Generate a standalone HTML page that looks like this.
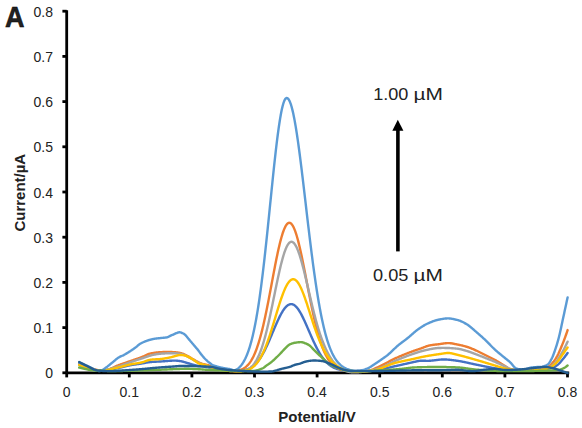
<!DOCTYPE html>
<html><head><meta charset="utf-8"><style>
html,body{margin:0;padding:0;background:#fff;}
svg{display:block;}
text{font-family:"Liberation Sans",sans-serif;fill:#222;}
</style></head><body>
<svg width="582" height="428" viewBox="0 0 582 428">
<rect width="582" height="428" fill="#fff"/>
<g stroke="#000" stroke-width="2.8">
<line x1="66.7" y1="10.2" x2="66.7" y2="372.8"/>
<line x1="66.7" y1="372.8" x2="569.2" y2="372.8"/>
<line x1="62.4" y1="372.80" x2="66.70" y2="372.80"/>
<line x1="62.4" y1="327.60" x2="66.70" y2="327.60"/>
<line x1="62.4" y1="282.40" x2="66.70" y2="282.40"/>
<line x1="62.4" y1="237.20" x2="66.70" y2="237.20"/>
<line x1="62.4" y1="192.00" x2="66.70" y2="192.00"/>
<line x1="62.4" y1="146.80" x2="66.70" y2="146.80"/>
<line x1="62.4" y1="101.60" x2="66.70" y2="101.60"/>
<line x1="62.4" y1="56.40" x2="66.70" y2="56.40"/>
<line x1="62.4" y1="11.20" x2="66.70" y2="11.20"/>
<line x1="66.70" y1="372.80" x2="66.70" y2="377.4"/>
<line x1="129.30" y1="372.80" x2="129.30" y2="377.4"/>
<line x1="191.90" y1="372.80" x2="191.90" y2="377.4"/>
<line x1="254.50" y1="372.80" x2="254.50" y2="377.4"/>
<line x1="317.10" y1="372.80" x2="317.10" y2="377.4"/>
<line x1="379.70" y1="372.80" x2="379.70" y2="377.4"/>
<line x1="442.30" y1="372.80" x2="442.30" y2="377.4"/>
<line x1="504.90" y1="372.80" x2="504.90" y2="377.4"/>
<line x1="567.50" y1="372.80" x2="567.50" y2="377.4"/>
</g>
<g fill="none" stroke-width="2.4" stroke-linejoin="round" stroke-linecap="round">
<path d="M79.2,364.00 L79.7,364.23 L80.2,364.46 L80.7,364.70 L81.2,364.93 L81.7,365.17 L82.2,365.41 L82.7,365.65 L83.2,365.88 L83.7,366.12 L84.2,366.36 L84.7,366.59 L85.2,366.83 L85.7,367.06 L86.2,367.29 L86.7,367.51 L87.2,367.73 L87.7,367.95 L88.2,368.16 L88.7,368.37 L89.2,368.57 L89.7,368.77 L90.2,368.96 L90.7,369.14 L91.2,369.32 L91.7,369.49 L92.2,369.65 L92.7,369.80 L93.2,369.95 L93.7,370.08 L94.2,370.21 L94.7,370.32 L95.2,370.43 L95.7,370.52 L96.2,370.60 L96.7,370.67 L97.2,370.73 L97.7,370.77 L98.2,370.80 L98.7,370.82 L99.2,370.82 L99.7,370.81 L100.2,370.79 L100.7,370.76 L101.2,370.72 L101.7,370.68 L102.2,370.64 L102.7,370.60 L103.2,370.55 L103.7,370.50 L104.2,370.44 L104.7,370.38 L105.2,370.32 L105.7,370.26 L106.2,370.19 L106.7,370.12 L107.2,370.05 L107.7,369.97 L108.2,369.90 L108.7,369.82 L109.2,369.74 L109.7,369.65 L110.2,369.57 L110.7,369.48 L111.2,369.39 L111.7,369.30 L112.2,369.21 L112.7,369.12 L113.2,369.02 L113.7,368.92 L114.2,368.83 L114.7,368.73 L115.2,368.63 L115.7,368.53 L116.2,368.43 L116.7,368.33 L117.2,368.23 L117.7,368.12 L118.2,368.02 L118.7,367.92 L119.2,367.81 L119.7,367.70 L120.2,367.58 L120.7,367.47 L121.2,367.35 L121.7,367.23 L122.2,367.10 L122.7,366.98 L123.2,366.86 L123.7,366.73 L124.2,366.61 L124.7,366.48 L125.2,366.36 L125.7,366.24 L126.2,366.12 L126.7,366.00 L127.2,365.88 L127.7,365.77 L128.2,365.66 L128.7,365.56 L129.2,365.45 L129.7,365.36 L130.2,365.26 L130.7,365.17 L131.2,365.09 L131.7,365.00 L132.2,364.92 L132.7,364.84 L133.2,364.76 L133.7,364.68 L134.2,364.61 L134.7,364.53 L135.2,364.46 L135.7,364.39 L136.2,364.32 L136.7,364.25 L137.2,364.17 L137.7,364.10 L138.2,364.03 L138.7,363.96 L139.2,363.88 L139.7,363.81 L140.2,363.73 L140.7,363.66 L141.2,363.58 L141.7,363.50 L142.2,363.42 L142.7,363.33 L143.2,363.24 L143.7,363.14 L144.2,363.05 L144.7,362.95 L145.2,362.85 L145.7,362.76 L146.2,362.66 L146.7,362.57 L147.2,362.48 L147.7,362.40 L148.2,362.32 L148.7,362.25 L149.2,362.19 L149.7,362.13 L150.2,362.08 L150.7,362.04 L151.2,362.00 L151.7,361.96 L152.2,361.92 L152.7,361.89 L153.2,361.86 L153.7,361.83 L154.2,361.80 L154.7,361.77 L155.2,361.74 L155.7,361.72 L156.2,361.69 L156.7,361.67 L157.2,361.64 L157.7,361.62 L158.2,361.60 L158.7,361.57 L159.2,361.54 L159.7,361.52 L160.2,361.49 L160.7,361.46 L161.2,361.43 L161.7,361.40 L162.2,361.37 L162.7,361.33 L163.2,361.30 L163.7,361.26 L164.2,361.22 L164.7,361.19 L165.2,361.15 L165.7,361.11 L166.2,361.07 L166.7,361.03 L167.2,360.99 L167.7,360.96 L168.2,360.92 L168.7,360.88 L169.2,360.85 L169.7,360.81 L170.2,360.78 L170.7,360.74 L171.2,360.71 L171.7,360.68 L172.2,360.66 L172.7,360.63 L173.2,360.60 L173.7,360.59 L174.2,360.58 L174.7,360.58 L175.2,360.59 L175.7,360.62 L176.2,360.65 L176.7,360.68 L177.2,360.73 L177.7,360.78 L178.2,360.83 L178.7,360.89 L179.2,360.95 L179.7,361.02 L180.2,361.09 L180.7,361.16 L181.2,361.25 L181.7,361.35 L182.2,361.47 L182.7,361.60 L183.2,361.74 L183.7,361.88 L184.2,362.03 L184.7,362.19 L185.2,362.34 L185.7,362.50 L186.2,362.65 L186.7,362.80 L187.2,362.94 L187.7,363.08 L188.2,363.22 L188.7,363.37 L189.2,363.52 L189.7,363.67 L190.2,363.82 L190.7,363.97 L191.2,364.13 L191.7,364.28 L192.2,364.43 L192.7,364.58 L193.2,364.72 L193.7,364.86 L194.2,365.00 L194.7,365.13 L195.2,365.26 L195.7,365.38 L196.2,365.49 L196.7,365.60 L197.2,365.70 L197.7,365.79 L198.2,365.88 L198.7,365.96 L199.2,366.04 L199.7,366.11 L200.2,366.18 L200.7,366.25 L201.2,366.32 L201.7,366.39 L202.2,366.45 L202.7,366.52 L203.2,366.59 L203.7,366.65 L204.2,366.72 L204.7,366.80 L205.2,366.87 L205.7,366.95 L206.2,367.03 L206.7,367.12 L207.2,367.21 L207.7,367.30 L208.2,367.39 L208.7,367.49 L209.2,367.58 L209.7,367.68 L210.2,367.78 L210.7,367.88 L211.2,367.98 L211.7,368.08 L212.2,368.18 L212.7,368.27 L213.2,368.37 L213.7,368.47 L214.2,368.57 L214.7,368.66 L215.2,368.75 L215.7,368.84 L216.2,368.93 L216.7,369.02 L217.2,369.10 L217.7,369.18 L218.2,369.26 L218.7,369.33 L219.2,369.40 L219.7,369.46 L220.2,369.52 L220.7,369.58 L221.2,369.64 L221.7,369.70 L222.2,369.76 L222.7,369.82 L223.2,369.88 L223.7,369.94 L224.2,370.00 L224.7,370.06 L225.2,370.11 L225.7,370.17 L226.2,370.23 L226.7,370.28 L227.2,370.33 L227.7,370.38 L228.2,370.44 L228.7,370.48 L229.2,370.53 L229.7,370.58 L230.2,370.62 L230.7,370.66 L231.2,370.70 L231.7,370.74 L232.2,370.77 L232.7,370.81 L233.2,370.84 L233.7,370.86 L234.2,370.88 L234.7,370.90 L235.2,370.92 L235.7,370.93 L236.2,370.94 L236.7,370.94 L237.2,370.93 L237.7,370.92 L238.2,370.91 L238.7,370.89 L239.2,370.86 L239.7,370.82 L240.2,370.78 L240.7,370.73 L241.2,370.68 L241.7,370.62 L242.2,370.55 L242.7,370.48 L243.2,370.40 L243.7,370.31 L244.2,370.21 L244.7,370.10 L245.2,369.99 L245.7,369.86 L246.2,369.72 L246.7,369.57 L247.2,369.40 L247.7,369.22 L248.2,369.03 L248.7,368.82 L249.2,368.60 L249.7,368.36 L250.2,368.10 L250.7,367.83 L251.2,367.53 L251.7,367.21 L252.2,366.88 L252.7,366.52 L253.2,366.14 L253.7,365.74 L254.2,365.32 L254.7,364.87 L255.2,364.39 L255.7,363.89 L256.2,363.37 L256.7,362.82 L257.2,362.24 L257.7,361.64 L258.2,361.00 L258.7,360.35 L259.2,359.66 L259.7,358.95 L260.2,358.21 L260.7,357.44 L261.2,356.64 L261.7,355.82 L262.2,354.97 L262.7,354.10 L263.2,353.19 L263.7,352.27 L264.2,351.32 L264.7,350.34 L265.2,349.34 L265.7,348.32 L266.2,347.28 L266.7,346.22 L267.2,345.14 L267.7,344.04 L268.2,342.92 L268.7,341.79 L269.2,340.65 L269.7,339.49 L270.2,338.32 L270.7,337.15 L271.2,335.97 L271.7,334.78 L272.2,333.59 L272.7,332.40 L273.2,331.20 L273.7,330.01 L274.2,328.83 L274.7,327.65 L275.2,326.48 L275.7,325.32 L276.2,324.17 L276.7,323.03 L277.2,321.91 L277.7,320.81 L278.2,319.73 L278.7,318.67 L279.2,317.64 L279.7,316.63 L280.2,315.65 L280.7,314.69 L281.2,313.77 L281.7,312.89 L282.2,312.03 L282.7,311.22 L283.2,310.44 L283.7,309.70 L284.2,309.00 L284.7,308.34 L285.2,307.73 L285.7,307.16 L286.2,306.64 L286.7,306.16 L287.2,305.73 L287.7,305.35 L288.2,305.02 L288.7,304.74 L289.2,304.51 L289.7,304.33 L290.2,304.20 L290.7,304.13 L291.2,304.10 L291.7,304.13 L292.2,304.21 L292.7,304.35 L293.2,304.54 L293.7,304.78 L294.2,305.08 L294.7,305.42 L295.2,305.82 L295.7,306.28 L296.2,306.78 L296.7,307.32 L297.2,307.92 L297.7,308.56 L298.2,309.24 L298.7,309.97 L299.2,310.74 L299.7,311.54 L300.2,312.39 L300.7,313.27 L301.2,314.18 L301.7,315.12 L302.2,316.09 L302.7,317.09 L303.2,318.12 L303.7,319.16 L304.2,320.23 L304.7,321.32 L305.2,322.42 L305.7,323.54 L306.2,324.67 L306.7,325.81 L307.2,326.95 L307.7,328.11 L308.2,329.26 L308.7,330.42 L309.2,331.58 L309.7,332.74 L310.2,333.89 L310.7,335.04 L311.2,336.18 L311.7,337.31 L312.2,338.44 L312.7,339.55 L313.2,340.64 L313.7,341.73 L314.2,342.79 L314.7,343.84 L315.2,344.88 L315.7,345.89 L316.2,346.89 L316.7,347.86 L317.2,348.81 L317.7,349.74 L318.2,350.65 L318.7,351.54 L319.2,352.40 L319.7,353.24 L320.2,354.05 L320.7,354.84 L321.2,355.61 L321.7,356.35 L322.2,357.07 L322.7,357.76 L323.2,358.43 L323.7,359.08 L324.2,359.70 L324.7,360.30 L325.2,360.88 L325.7,361.43 L326.2,361.96 L326.7,362.47 L327.2,362.96 L327.7,363.43 L328.2,363.87 L328.7,364.30 L329.2,364.71 L329.7,365.09 L330.2,365.46 L330.7,365.81 L331.2,366.15 L331.7,366.46 L332.2,366.76 L332.7,367.05 L333.2,367.32 L333.7,367.57 L334.2,367.81 L334.7,368.04 L335.2,368.26 L335.7,368.46 L336.2,368.65 L336.7,368.83 L337.2,369.00 L337.7,369.16 L338.2,369.31 L338.7,369.45 L339.2,369.58 L339.7,369.70 L340.2,369.82 L340.7,369.93 L341.2,370.03 L341.7,370.12 L342.2,370.21 L342.7,370.29 L343.2,370.37 L343.7,370.44 L344.2,370.50 L344.7,370.57 L345.2,370.62 L345.7,370.68 L346.2,370.73 L346.7,370.77 L347.2,370.81 L347.7,370.85 L348.2,370.89 L348.7,370.92 L349.2,370.96 L349.7,370.98 L350.2,371.01 L350.7,371.03 L351.2,371.06 L351.7,371.08 L352.2,371.09 L352.7,371.11 L353.2,371.12 L353.7,371.13 L354.2,371.14 L354.7,371.15 L355.2,371.16 L355.7,371.17 L356.2,371.17 L356.7,371.18 L357.2,371.18 L357.7,371.18 L358.2,371.18 L358.7,371.18 L359.2,371.18 L359.7,371.18 L360.2,371.17 L360.7,371.17 L361.2,371.17 L361.7,371.16 L362.2,371.15 L362.7,371.15 L363.2,371.14 L363.7,371.13 L364.2,371.13 L364.7,371.12 L365.2,371.11 L365.7,371.10 L366.2,371.09 L366.7,371.08 L367.2,371.07 L367.7,371.06 L368.2,371.04 L368.7,371.03 L369.2,371.02 L369.7,371.01 L370.2,370.99 L370.7,370.98 L371.2,370.95 L371.7,370.92 L372.2,370.89 L372.7,370.85 L373.2,370.80 L373.7,370.75 L374.2,370.69 L374.7,370.63 L375.2,370.57 L375.7,370.50 L376.2,370.42 L376.7,370.35 L377.2,370.27 L377.7,370.18 L378.2,370.09 L378.7,370.00 L379.2,369.90 L379.7,369.81 L380.2,369.71 L380.7,369.60 L381.2,369.50 L381.7,369.39 L382.2,369.28 L382.7,369.16 L383.2,369.05 L383.7,368.93 L384.2,368.81 L384.7,368.70 L385.2,368.57 L385.7,368.45 L386.2,368.33 L386.7,368.21 L387.2,368.08 L387.7,367.96 L388.2,367.84 L388.7,367.71 L389.2,367.59 L389.7,367.46 L390.2,367.34 L390.7,367.22 L391.2,367.10 L391.7,366.98 L392.2,366.86 L392.7,366.74 L393.2,366.62 L393.7,366.51 L394.2,366.39 L394.7,366.28 L395.2,366.17 L395.7,366.06 L396.2,365.96 L396.7,365.85 L397.2,365.75 L397.7,365.64 L398.2,365.53 L398.7,365.42 L399.2,365.31 L399.7,365.20 L400.2,365.09 L400.7,364.98 L401.2,364.86 L401.7,364.75 L402.2,364.64 L402.7,364.52 L403.2,364.41 L403.7,364.29 L404.2,364.18 L404.7,364.06 L405.2,363.95 L405.7,363.83 L406.2,363.72 L406.7,363.60 L407.2,363.49 L407.7,363.37 L408.2,363.26 L408.7,363.14 L409.2,363.03 L409.7,362.92 L410.2,362.80 L410.7,362.69 L411.2,362.58 L411.7,362.47 L412.2,362.36 L412.7,362.25 L413.2,362.14 L413.7,362.03 L414.2,361.93 L414.7,361.82 L415.2,361.71 L415.7,361.60 L416.2,361.49 L416.7,361.37 L417.2,361.26 L417.7,361.15 L418.2,361.05 L418.7,360.96 L419.2,360.88 L419.7,360.83 L420.2,360.79 L420.7,360.76 L421.2,360.74 L421.7,360.73 L422.2,360.73 L422.7,360.73 L423.2,360.74 L423.7,360.75 L424.2,360.77 L424.7,360.78 L425.2,360.80 L425.7,360.82 L426.2,360.83 L426.7,360.84 L427.2,360.85 L427.7,360.85 L428.2,360.84 L428.7,360.83 L429.2,360.81 L429.7,360.78 L430.2,360.75 L430.7,360.71 L431.2,360.66 L431.7,360.61 L432.2,360.56 L432.7,360.50 L433.2,360.45 L433.7,360.39 L434.2,360.32 L434.7,360.26 L435.2,360.20 L435.7,360.14 L436.2,360.07 L436.7,360.01 L437.2,359.95 L437.7,359.89 L438.2,359.83 L438.7,359.78 L439.2,359.73 L439.7,359.68 L440.2,359.64 L440.7,359.60 L441.2,359.56 L441.7,359.53 L442.2,359.51 L442.7,359.49 L443.2,359.48 L443.7,359.48 L444.2,359.48 L444.7,359.49 L445.2,359.50 L445.7,359.51 L446.2,359.54 L446.7,359.56 L447.2,359.59 L447.7,359.63 L448.2,359.66 L448.7,359.71 L449.2,359.75 L449.7,359.80 L450.2,359.85 L450.7,359.90 L451.2,359.96 L451.7,360.02 L452.2,360.08 L452.7,360.15 L453.2,360.21 L453.7,360.28 L454.2,360.35 L454.7,360.42 L455.2,360.49 L455.7,360.56 L456.2,360.63 L456.7,360.70 L457.2,360.77 L457.7,360.84 L458.2,360.92 L458.7,361.00 L459.2,361.08 L459.7,361.16 L460.2,361.25 L460.7,361.34 L461.2,361.43 L461.7,361.52 L462.2,361.62 L462.7,361.72 L463.2,361.82 L463.7,361.92 L464.2,362.02 L464.7,362.13 L465.2,362.23 L465.7,362.34 L466.2,362.45 L466.7,362.56 L467.2,362.67 L467.7,362.78 L468.2,362.89 L468.7,363.00 L469.2,363.11 L469.7,363.22 L470.2,363.33 L470.7,363.45 L471.2,363.56 L471.7,363.67 L472.2,363.78 L472.7,363.89 L473.2,364.00 L473.7,364.10 L474.2,364.21 L474.7,364.31 L475.2,364.42 L475.7,364.52 L476.2,364.62 L476.7,364.72 L477.2,364.82 L477.7,364.92 L478.2,365.02 L478.7,365.13 L479.2,365.23 L479.7,365.33 L480.2,365.43 L480.7,365.53 L481.2,365.64 L481.7,365.74 L482.2,365.84 L482.7,365.94 L483.2,366.05 L483.7,366.15 L484.2,366.25 L484.7,366.35 L485.2,366.45 L485.7,366.56 L486.2,366.66 L486.7,366.76 L487.2,366.86 L487.7,366.96 L488.2,367.05 L488.7,367.15 L489.2,367.25 L489.7,367.35 L490.2,367.44 L490.7,367.54 L491.2,367.63 L491.7,367.73 L492.2,367.82 L492.7,367.91 L493.2,368.00 L493.7,368.09 L494.2,368.18 L494.7,368.27 L495.2,368.35 L495.7,368.44 L496.2,368.53 L496.7,368.62 L497.2,368.70 L497.7,368.79 L498.2,368.88 L498.7,368.97 L499.2,369.06 L499.7,369.15 L500.2,369.24 L500.7,369.32 L501.2,369.41 L501.7,369.49 L502.2,369.57 L502.7,369.65 L503.2,369.73 L503.7,369.81 L504.2,369.88 L504.7,369.95 L505.2,370.02 L505.7,370.09 L506.2,370.15 L506.7,370.21 L507.2,370.26 L507.7,370.32 L508.2,370.36 L508.7,370.41 L509.2,370.45 L509.7,370.48 L510.2,370.51 L510.7,370.54 L511.2,370.57 L511.7,370.59 L512.2,370.61 L512.7,370.63 L513.2,370.65 L513.7,370.67 L514.2,370.69 L514.7,370.70 L515.2,370.72 L515.7,370.73 L516.2,370.74 L516.7,370.75 L517.2,370.75 L517.7,370.76 L518.2,370.76 L518.7,370.77 L519.2,370.77 L519.7,370.77 L520.2,370.77 L520.7,370.77 L521.2,370.76 L521.7,370.76 L522.2,370.75 L522.7,370.74 L523.2,370.73 L523.7,370.72 L524.2,370.71 L524.7,370.70 L525.2,370.69 L525.7,370.67 L526.2,370.66 L526.7,370.64 L527.2,370.62 L527.7,370.60 L528.2,370.58 L528.7,370.56 L529.2,370.54 L529.7,370.51 L530.2,370.49 L530.7,370.46 L531.2,370.43 L531.7,370.40 L532.2,370.37 L532.7,370.33 L533.2,370.29 L533.7,370.25 L534.2,370.20 L534.7,370.16 L535.2,370.11 L535.7,370.06 L536.2,370.01 L536.7,369.96 L537.2,369.90 L537.7,369.85 L538.2,369.79 L538.7,369.74 L539.2,369.68 L539.7,369.62 L540.2,369.56 L540.7,369.51 L541.2,369.45 L541.7,369.39 L542.2,369.33 L542.7,369.27 L543.2,369.21 L543.7,369.15 L544.2,369.09 L544.7,369.03 L545.2,368.98 L545.7,368.92 L546.2,368.85 L546.7,368.78 L547.2,368.70 L547.7,368.62 L548.2,368.53 L548.7,368.44 L549.2,368.35 L549.7,368.25 L550.2,368.14 L550.7,368.04 L551.2,367.93 L551.7,367.81 L552.2,367.69 L552.7,367.57 L553.2,367.45 L553.7,367.28 L554.2,367.06 L554.7,366.81 L555.2,366.52 L555.7,366.20 L556.2,365.86 L556.7,365.50 L557.2,365.12 L557.7,364.73 L558.2,364.34 L558.7,363.90 L559.2,363.42 L559.7,362.90 L560.2,362.35 L560.7,361.77 L561.2,361.18 L561.7,360.58 L562.2,359.97 L562.7,359.36 L563.2,358.76 L563.7,358.15 L564.2,357.53 L564.7,356.89 L565.2,356.25 L565.7,355.59 L566.2,354.92 L566.7,354.24 L567.2,353.56 L567.6,353.00" stroke="#4472C4"/>
<path d="M79.2,364.50 L79.7,364.68 L80.2,364.85 L80.7,365.03 L81.2,365.20 L81.7,365.37 L82.2,365.54 L82.7,365.71 L83.2,365.88 L83.7,366.05 L84.2,366.21 L84.7,366.38 L85.2,366.54 L85.7,366.70 L86.2,366.86 L86.7,367.01 L87.2,367.17 L87.7,367.32 L88.2,367.47 L88.7,367.62 L89.2,367.77 L89.7,367.91 L90.2,368.06 L90.7,368.20 L91.2,368.35 L91.7,368.50 L92.2,368.65 L92.7,368.79 L93.2,368.94 L93.7,369.09 L94.2,369.23 L94.7,369.37 L95.2,369.51 L95.7,369.64 L96.2,369.77 L96.7,369.89 L97.2,370.00 L97.7,370.11 L98.2,370.21 L98.7,370.30 L99.2,370.39 L99.7,370.46 L100.2,370.52 L100.7,370.57 L101.2,370.60 L101.7,370.61 L102.2,370.61 L102.7,370.59 L103.2,370.56 L103.7,370.52 L104.2,370.46 L104.7,370.39 L105.2,370.31 L105.7,370.22 L106.2,370.11 L106.7,370.00 L107.2,369.87 L107.7,369.73 L108.2,369.58 L108.7,369.41 L109.2,369.23 L109.7,369.04 L110.2,368.85 L110.7,368.64 L111.2,368.43 L111.7,368.21 L112.2,367.98 L112.7,367.75 L113.2,367.52 L113.7,367.29 L114.2,367.06 L114.7,366.83 L115.2,366.60 L115.7,366.38 L116.2,366.16 L116.7,365.94 L117.2,365.73 L117.7,365.53 L118.2,365.34 L118.7,365.15 L119.2,364.97 L119.7,364.79 L120.2,364.61 L120.7,364.43 L121.2,364.25 L121.7,364.07 L122.2,363.90 L122.7,363.72 L123.2,363.55 L123.7,363.38 L124.2,363.20 L124.7,363.03 L125.2,362.86 L125.7,362.69 L126.2,362.51 L126.7,362.34 L127.2,362.17 L127.7,362.00 L128.2,361.83 L128.7,361.65 L129.2,361.48 L129.7,361.30 L130.2,361.13 L130.7,360.96 L131.2,360.78 L131.7,360.61 L132.2,360.44 L132.7,360.27 L133.2,360.10 L133.7,359.93 L134.2,359.75 L134.7,359.58 L135.2,359.41 L135.7,359.24 L136.2,359.07 L136.7,358.90 L137.2,358.72 L137.7,358.55 L138.2,358.37 L138.7,358.20 L139.2,358.02 L139.7,357.84 L140.2,357.66 L140.7,357.47 L141.2,357.29 L141.7,357.10 L142.2,356.90 L142.7,356.69 L143.2,356.47 L143.7,356.23 L144.2,355.99 L144.7,355.75 L145.2,355.50 L145.7,355.25 L146.2,355.01 L146.7,354.78 L147.2,354.55 L147.7,354.34 L148.2,354.14 L148.7,353.96 L149.2,353.81 L149.7,353.67 L150.2,353.56 L150.7,353.45 L151.2,353.35 L151.7,353.25 L152.2,353.16 L152.7,353.07 L153.2,352.98 L153.7,352.90 L154.2,352.82 L154.7,352.74 L155.2,352.67 L155.7,352.60 L156.2,352.54 L156.7,352.48 L157.2,352.42 L157.7,352.37 L158.2,352.32 L158.7,352.28 L159.2,352.24 L159.7,352.20 L160.2,352.17 L160.7,352.14 L161.2,352.12 L161.7,352.10 L162.2,352.08 L162.7,352.07 L163.2,352.06 L163.7,352.05 L164.2,352.04 L164.7,352.03 L165.2,352.02 L165.7,352.01 L166.2,352.01 L166.7,352.01 L167.2,352.00 L167.7,352.00 L168.2,352.01 L168.7,352.01 L169.2,352.01 L169.7,352.02 L170.2,352.02 L170.7,352.03 L171.2,352.04 L171.7,352.05 L172.2,352.07 L172.7,352.08 L173.2,352.10 L173.7,352.12 L174.2,352.14 L174.7,352.18 L175.2,352.22 L175.7,352.28 L176.2,352.33 L176.7,352.40 L177.2,352.47 L177.7,352.54 L178.2,352.62 L178.7,352.71 L179.2,352.80 L179.7,352.89 L180.2,352.98 L180.7,353.08 L181.2,353.21 L181.7,353.36 L182.2,353.52 L182.7,353.71 L183.2,353.91 L183.7,354.12 L184.2,354.34 L184.7,354.57 L185.2,354.81 L185.7,355.06 L186.2,355.30 L186.7,355.55 L187.2,355.80 L187.7,356.05 L188.2,356.31 L188.7,356.59 L189.2,356.88 L189.7,357.17 L190.2,357.47 L190.7,357.78 L191.2,358.09 L191.7,358.40 L192.2,358.71 L192.7,359.02 L193.2,359.32 L193.7,359.61 L194.2,359.89 L194.7,360.16 L195.2,360.44 L195.7,360.71 L196.2,360.99 L196.7,361.26 L197.2,361.53 L197.7,361.80 L198.2,362.06 L198.7,362.31 L199.2,362.56 L199.7,362.79 L200.2,363.02 L200.7,363.23 L201.2,363.43 L201.7,363.61 L202.2,363.77 L202.7,363.91 L203.2,364.04 L203.7,364.16 L204.2,364.27 L204.7,364.38 L205.2,364.48 L205.7,364.58 L206.2,364.69 L206.7,364.81 L207.2,364.93 L207.7,365.07 L208.2,365.23 L208.7,365.41 L209.2,365.61 L209.7,365.82 L210.2,366.05 L210.7,366.29 L211.2,366.54 L211.7,366.80 L212.2,367.06 L212.7,367.33 L213.2,367.59 L213.7,367.85 L214.2,368.10 L214.7,368.34 L215.2,368.57 L215.7,368.78 L216.2,368.98 L216.7,369.16 L217.2,369.31 L217.7,369.44 L218.2,369.54 L218.7,369.63 L219.2,369.72 L219.7,369.81 L220.2,369.89 L220.7,369.97 L221.2,370.04 L221.7,370.12 L222.2,370.19 L222.7,370.25 L223.2,370.32 L223.7,370.38 L224.2,370.43 L224.7,370.48 L225.2,370.53 L225.7,370.58 L226.2,370.62 L226.7,370.66 L227.2,370.69 L227.7,370.72 L228.2,370.75 L228.7,370.77 L229.2,370.78 L229.7,370.80 L230.2,370.80 L230.7,370.81 L231.2,370.81 L231.7,370.81 L232.2,370.81 L232.7,370.81 L233.2,370.80 L233.7,370.79 L234.2,370.78 L234.7,370.76 L235.2,370.73 L235.7,370.69 L236.2,370.65 L236.7,370.60 L237.2,370.54 L237.7,370.47 L238.2,370.39 L238.7,370.29 L239.2,370.18 L239.7,370.06 L240.2,369.92 L240.7,369.77 L241.2,369.59 L241.7,369.40 L242.2,369.19 L242.7,368.95 L243.2,368.69 L243.7,368.41 L244.2,368.11 L244.7,367.78 L245.2,367.42 L245.7,367.04 L246.2,366.63 L246.7,366.18 L247.2,365.71 L247.7,365.20 L248.2,364.65 L248.7,364.07 L249.2,363.45 L249.7,362.79 L250.2,362.09 L250.7,361.35 L251.2,360.57 L251.7,359.73 L252.2,358.85 L252.7,357.93 L253.2,356.95 L253.7,355.92 L254.2,354.84 L254.7,353.70 L255.2,352.52 L255.7,351.27 L256.2,349.97 L256.7,348.61 L257.2,347.20 L257.7,345.73 L258.2,344.20 L258.7,342.61 L259.2,340.96 L259.7,339.25 L260.2,337.49 L260.7,335.66 L261.2,333.78 L261.7,331.83 L262.2,329.84 L262.7,327.78 L263.2,325.67 L263.7,323.50 L264.2,321.29 L264.7,319.02 L265.2,316.70 L265.7,314.34 L266.2,311.94 L266.7,309.49 L267.2,307.01 L267.7,304.49 L268.2,301.94 L268.7,299.37 L269.2,296.76 L269.7,294.14 L270.2,291.50 L270.7,288.85 L271.2,286.18 L271.7,283.52 L272.2,280.85 L272.7,278.19 L273.2,275.53 L273.7,272.89 L274.2,270.27 L274.7,267.67 L275.2,265.10 L275.7,262.57 L276.2,260.07 L276.7,257.61 L277.2,255.21 L277.7,252.85 L278.2,250.55 L278.7,248.32 L279.2,246.15 L279.7,244.06 L280.2,242.04 L280.7,240.10 L281.2,238.24 L281.7,236.48 L282.2,234.80 L282.7,233.23 L283.2,231.75 L283.7,230.38 L284.2,229.11 L284.7,227.95 L285.2,226.91 L285.7,225.98 L286.2,225.16 L286.7,224.46 L287.2,223.89 L287.7,223.43 L288.2,223.10 L288.7,222.89 L289.2,222.80 L289.7,222.84 L290.2,223.00 L290.7,223.28 L291.2,223.69 L291.7,224.22 L292.2,224.87 L292.7,225.63 L293.2,226.52 L293.7,227.52 L294.2,228.63 L294.7,229.85 L295.2,231.17 L295.7,232.60 L296.2,234.13 L296.7,235.76 L297.2,237.47 L297.7,239.28 L298.2,241.17 L298.7,243.14 L299.2,245.18 L299.7,247.30 L300.2,249.48 L300.7,251.72 L301.2,254.02 L301.7,256.37 L302.2,258.77 L302.7,261.21 L303.2,263.68 L303.7,266.19 L304.2,268.72 L304.7,271.28 L305.2,273.85 L305.7,276.44 L306.2,279.03 L306.7,281.63 L307.2,284.23 L307.7,286.82 L308.2,289.40 L308.7,291.97 L309.2,294.52 L309.7,297.06 L310.2,299.56 L310.7,302.04 L311.2,304.49 L311.7,306.91 L312.2,309.29 L312.7,311.63 L313.2,313.93 L313.7,316.19 L314.2,318.40 L314.7,320.56 L315.2,322.68 L315.7,324.74 L316.2,326.76 L316.7,328.72 L317.2,330.63 L317.7,332.48 L318.2,334.28 L318.7,336.03 L319.2,337.72 L319.7,339.36 L320.2,340.94 L320.7,342.46 L321.2,343.94 L321.7,345.36 L322.2,346.72 L322.7,348.03 L323.2,349.30 L323.7,350.51 L324.2,351.66 L324.7,352.77 L325.2,353.84 L325.7,354.85 L326.2,355.82 L326.7,356.74 L327.2,357.62 L327.7,358.46 L328.2,359.26 L328.7,360.01 L329.2,360.73 L329.7,361.41 L330.2,362.05 L330.7,362.66 L331.2,363.24 L331.7,363.79 L332.2,364.30 L332.7,364.78 L333.2,365.24 L333.7,365.67 L334.2,366.07 L334.7,366.45 L335.2,366.81 L335.7,367.14 L336.2,367.46 L336.7,367.75 L337.2,368.02 L337.7,368.28 L338.2,368.52 L338.7,368.74 L339.2,368.95 L339.7,369.14 L340.2,369.32 L340.7,369.49 L341.2,369.64 L341.7,369.79 L342.2,369.92 L342.7,370.04 L343.2,370.16 L343.7,370.26 L344.2,370.36 L344.7,370.45 L345.2,370.53 L345.7,370.61 L346.2,370.68 L346.7,370.74 L347.2,370.79 L347.7,370.85 L348.2,370.89 L348.7,370.93 L349.2,370.97 L349.7,371.00 L350.2,371.03 L350.7,371.06 L351.2,371.08 L351.7,371.10 L352.2,371.12 L352.7,371.14 L353.2,371.16 L353.7,371.17 L354.2,371.18 L354.7,371.19 L355.2,371.20 L355.7,371.21 L356.2,371.22 L356.7,371.22 L357.2,371.22 L357.7,371.22 L358.2,371.21 L358.7,371.21 L359.2,371.20 L359.7,371.19 L360.2,371.18 L360.7,371.16 L361.2,371.15 L361.7,371.13 L362.2,371.11 L362.7,371.09 L363.2,371.07 L363.7,371.05 L364.2,371.02 L364.7,371.00 L365.2,370.97 L365.7,370.94 L366.2,370.91 L366.7,370.88 L367.2,370.85 L367.7,370.82 L368.2,370.78 L368.7,370.73 L369.2,370.64 L369.7,370.54 L370.2,370.41 L370.7,370.27 L371.2,370.10 L371.7,369.92 L372.2,369.73 L372.7,369.53 L373.2,369.31 L373.7,369.09 L374.2,368.86 L374.7,368.63 L375.2,368.40 L375.7,368.17 L376.2,367.94 L376.7,367.71 L377.2,367.49 L377.7,367.27 L378.2,367.05 L378.7,366.82 L379.2,366.59 L379.7,366.36 L380.2,366.12 L380.7,365.88 L381.2,365.63 L381.7,365.38 L382.2,365.13 L382.7,364.87 L383.2,364.61 L383.7,364.35 L384.2,364.09 L384.7,363.83 L385.2,363.56 L385.7,363.30 L386.2,363.03 L386.7,362.76 L387.2,362.49 L387.7,362.23 L388.2,361.96 L388.7,361.69 L389.2,361.43 L389.7,361.16 L390.2,360.90 L390.7,360.64 L391.2,360.38 L391.7,360.12 L392.2,359.87 L392.7,359.61 L393.2,359.37 L393.7,359.12 L394.2,358.88 L394.7,358.64 L395.2,358.41 L395.7,358.18 L396.2,357.96 L396.7,357.73 L397.2,357.51 L397.7,357.29 L398.2,357.08 L398.7,356.86 L399.2,356.64 L399.7,356.43 L400.2,356.21 L400.7,356.00 L401.2,355.79 L401.7,355.58 L402.2,355.37 L402.7,355.16 L403.2,354.96 L403.7,354.75 L404.2,354.55 L404.7,354.34 L405.2,354.14 L405.7,353.94 L406.2,353.74 L406.7,353.54 L407.2,353.35 L407.7,353.15 L408.2,352.96 L408.7,352.76 L409.2,352.57 L409.7,352.38 L410.2,352.19 L410.7,352.00 L411.2,351.81 L411.7,351.63 L412.2,351.44 L412.7,351.26 L413.2,351.08 L413.7,350.89 L414.2,350.71 L414.7,350.54 L415.2,350.36 L415.7,350.19 L416.2,350.02 L416.7,349.86 L417.2,349.70 L417.7,349.54 L418.2,349.39 L418.7,349.23 L419.2,349.07 L419.7,348.90 L420.2,348.73 L420.7,348.55 L421.2,348.37 L421.7,348.18 L422.2,347.98 L422.7,347.79 L423.2,347.59 L423.7,347.39 L424.2,347.19 L424.7,346.99 L425.2,346.80 L425.7,346.61 L426.2,346.42 L426.7,346.25 L427.2,346.08 L427.7,345.93 L428.2,345.79 L428.7,345.66 L429.2,345.54 L429.7,345.44 L430.2,345.35 L430.7,345.26 L431.2,345.17 L431.7,345.09 L432.2,345.02 L432.7,344.94 L433.2,344.87 L433.7,344.81 L434.2,344.74 L434.7,344.68 L435.2,344.62 L435.7,344.56 L436.2,344.50 L436.7,344.44 L437.2,344.38 L437.7,344.32 L438.2,344.26 L438.7,344.20 L439.2,344.13 L439.7,344.07 L440.2,344.00 L440.7,343.92 L441.2,343.85 L441.7,343.77 L442.2,343.70 L442.7,343.63 L443.2,343.56 L443.7,343.49 L444.2,343.42 L444.7,343.36 L445.2,343.30 L445.7,343.25 L446.2,343.20 L446.7,343.17 L447.2,343.13 L447.7,343.11 L448.2,343.10 L448.7,343.10 L449.2,343.11 L449.7,343.14 L450.2,343.19 L450.7,343.24 L451.2,343.31 L451.7,343.38 L452.2,343.46 L452.7,343.55 L453.2,343.65 L453.7,343.74 L454.2,343.85 L454.7,343.95 L455.2,344.06 L455.7,344.16 L456.2,344.27 L456.7,344.37 L457.2,344.46 L457.7,344.56 L458.2,344.65 L458.7,344.75 L459.2,344.86 L459.7,344.96 L460.2,345.07 L460.7,345.18 L461.2,345.30 L461.7,345.42 L462.2,345.54 L462.7,345.67 L463.2,345.80 L463.7,345.93 L464.2,346.06 L464.7,346.20 L465.2,346.34 L465.7,346.48 L466.2,346.62 L466.7,346.77 L467.2,346.92 L467.7,347.08 L468.2,347.25 L468.7,347.42 L469.2,347.60 L469.7,347.79 L470.2,347.98 L470.7,348.17 L471.2,348.37 L471.7,348.58 L472.2,348.79 L472.7,349.00 L473.2,349.22 L473.7,349.43 L474.2,349.65 L474.7,349.87 L475.2,350.10 L475.7,350.32 L476.2,350.54 L476.7,350.77 L477.2,351.01 L477.7,351.24 L478.2,351.48 L478.7,351.73 L479.2,351.98 L479.7,352.23 L480.2,352.48 L480.7,352.74 L481.2,352.99 L481.7,353.25 L482.2,353.51 L482.7,353.77 L483.2,354.03 L483.7,354.29 L484.2,354.54 L484.7,354.80 L485.2,355.05 L485.7,355.30 L486.2,355.55 L486.7,355.79 L487.2,356.04 L487.7,356.28 L488.2,356.52 L488.7,356.77 L489.2,357.01 L489.7,357.25 L490.2,357.50 L490.7,357.74 L491.2,357.99 L491.7,358.24 L492.2,358.49 L492.7,358.74 L493.2,359.00 L493.7,359.26 L494.2,359.52 L494.7,359.79 L495.2,360.06 L495.7,360.34 L496.2,360.63 L496.7,360.92 L497.2,361.21 L497.7,361.51 L498.2,361.82 L498.7,362.12 L499.2,362.43 L499.7,362.74 L500.2,363.05 L500.7,363.36 L501.2,363.67 L501.7,363.98 L502.2,364.29 L502.7,364.59 L503.2,364.90 L503.7,365.20 L504.2,365.50 L504.7,365.81 L505.2,366.14 L505.7,366.47 L506.2,366.82 L506.7,367.16 L507.2,367.49 L507.7,367.81 L508.2,368.11 L508.7,368.38 L509.2,368.61 L509.7,368.81 L510.2,368.96 L510.7,369.09 L511.2,369.22 L511.7,369.35 L512.2,369.46 L512.7,369.58 L513.2,369.68 L513.7,369.78 L514.2,369.88 L514.7,369.97 L515.2,370.05 L515.7,370.13 L516.2,370.20 L516.7,370.26 L517.2,370.32 L517.7,370.36 L518.2,370.41 L518.7,370.44 L519.2,370.47 L519.7,370.49 L520.2,370.51 L520.7,370.52 L521.2,370.53 L521.7,370.54 L522.2,370.55 L522.7,370.56 L523.2,370.57 L523.7,370.58 L524.2,370.59 L524.7,370.59 L525.2,370.59 L525.7,370.60 L526.2,370.59 L526.7,370.59 L527.2,370.59 L527.7,370.58 L528.2,370.57 L528.7,370.55 L529.2,370.53 L529.7,370.51 L530.2,370.49 L530.7,370.46 L531.2,370.43 L531.7,370.39 L532.2,370.35 L532.7,370.31 L533.2,370.27 L533.7,370.22 L534.2,370.17 L534.7,370.12 L535.2,370.06 L535.7,370.01 L536.2,369.95 L536.7,369.89 L537.2,369.83 L537.7,369.77 L538.2,369.71 L538.7,369.65 L539.2,369.59 L539.7,369.53 L540.2,369.48 L540.7,369.41 L541.2,369.33 L541.7,369.25 L542.2,369.16 L542.7,369.05 L543.2,368.95 L543.7,368.83 L544.2,368.71 L544.7,368.58 L545.2,368.44 L545.7,368.26 L546.2,368.02 L546.7,367.75 L547.2,367.44 L547.7,367.10 L548.2,366.74 L548.7,366.37 L549.2,366.00 L549.7,365.62 L550.2,365.22 L550.7,364.76 L551.2,364.27 L551.7,363.74 L552.2,363.19 L552.7,362.62 L553.2,362.04 L553.7,361.44 L554.2,360.80 L554.7,360.11 L555.2,359.38 L555.7,358.62 L556.2,357.81 L556.7,356.97 L557.2,356.10 L557.7,355.17 L558.2,354.16 L558.7,353.09 L559.2,351.97 L559.7,350.81 L560.2,349.63 L560.7,348.44 L561.2,347.26 L561.7,346.07 L562.2,344.85 L562.7,343.61 L563.2,342.35 L563.7,341.07 L564.2,339.76 L564.7,338.44 L565.2,337.09 L565.7,335.70 L566.2,334.27 L566.7,332.81 L567.2,331.31 L567.6,330.10" stroke="#ED7D31"/>
<path d="M79.2,365.00 L79.7,365.21 L80.2,365.41 L80.7,365.62 L81.2,365.84 L81.7,366.05 L82.2,366.26 L82.7,366.47 L83.2,366.69 L83.7,366.90 L84.2,367.11 L84.7,367.32 L85.2,367.53 L85.7,367.73 L86.2,367.93 L86.7,368.13 L87.2,368.33 L87.7,368.52 L88.2,368.71 L88.7,368.89 L89.2,369.07 L89.7,369.24 L90.2,369.40 L90.7,369.56 L91.2,369.71 L91.7,369.86 L92.2,369.99 L92.7,370.12 L93.2,370.24 L93.7,370.35 L94.2,370.45 L94.7,370.54 L95.2,370.62 L95.7,370.69 L96.2,370.75 L96.7,370.80 L97.2,370.84 L97.7,370.86 L98.2,370.87 L98.7,370.87 L99.2,370.85 L99.7,370.82 L100.2,370.78 L100.7,370.73 L101.2,370.67 L101.7,370.61 L102.2,370.54 L102.7,370.47 L103.2,370.39 L103.7,370.31 L104.2,370.22 L104.7,370.13 L105.2,370.03 L105.7,369.93 L106.2,369.83 L106.7,369.72 L107.2,369.61 L107.7,369.49 L108.2,369.37 L108.7,369.25 L109.2,369.12 L109.7,369.00 L110.2,368.86 L110.7,368.73 L111.2,368.59 L111.7,368.46 L112.2,368.32 L112.7,368.17 L113.2,368.03 L113.7,367.88 L114.2,367.74 L114.7,367.59 L115.2,367.44 L115.7,367.29 L116.2,367.14 L116.7,366.99 L117.2,366.83 L117.7,366.68 L118.2,366.53 L118.7,366.38 L119.2,366.22 L119.7,366.06 L120.2,365.89 L120.7,365.73 L121.2,365.55 L121.7,365.38 L122.2,365.21 L122.7,365.03 L123.2,364.85 L123.7,364.67 L124.2,364.49 L124.7,364.30 L125.2,364.12 L125.7,363.94 L126.2,363.75 L126.7,363.57 L127.2,363.39 L127.7,363.21 L128.2,363.03 L128.7,362.85 L129.2,362.68 L129.7,362.50 L130.2,362.33 L130.7,362.16 L131.2,361.99 L131.7,361.82 L132.2,361.65 L132.7,361.48 L133.2,361.32 L133.7,361.15 L134.2,360.98 L134.7,360.81 L135.2,360.64 L135.7,360.48 L136.2,360.31 L136.7,360.14 L137.2,359.98 L137.7,359.81 L138.2,359.65 L138.7,359.48 L139.2,359.32 L139.7,359.15 L140.2,358.99 L140.7,358.83 L141.2,358.66 L141.7,358.50 L142.2,358.34 L142.7,358.17 L143.2,358.00 L143.7,357.82 L144.2,357.65 L144.7,357.47 L145.2,357.30 L145.7,357.12 L146.2,356.95 L146.7,356.77 L147.2,356.60 L147.7,356.43 L148.2,356.26 L148.7,356.09 L149.2,355.93 L149.7,355.78 L150.2,355.62 L150.7,355.48 L151.2,355.34 L151.7,355.20 L152.2,355.07 L152.7,354.95 L153.2,354.84 L153.7,354.74 L154.2,354.64 L154.7,354.54 L155.2,354.45 L155.7,354.35 L156.2,354.27 L156.7,354.18 L157.2,354.10 L157.7,354.03 L158.2,353.96 L158.7,353.89 L159.2,353.83 L159.7,353.77 L160.2,353.72 L160.7,353.68 L161.2,353.63 L161.7,353.60 L162.2,353.57 L162.7,353.54 L163.2,353.51 L163.7,353.48 L164.2,353.45 L164.7,353.43 L165.2,353.40 L165.7,353.38 L166.2,353.36 L166.7,353.34 L167.2,353.32 L167.7,353.30 L168.2,353.29 L168.7,353.27 L169.2,353.26 L169.7,353.25 L170.2,353.23 L170.7,353.22 L171.2,353.22 L171.7,353.21 L172.2,353.21 L172.7,353.20 L173.2,353.20 L173.7,353.20 L174.2,353.21 L174.7,353.23 L175.2,353.26 L175.7,353.29 L176.2,353.32 L176.7,353.37 L177.2,353.42 L177.7,353.47 L178.2,353.53 L178.7,353.59 L179.2,353.65 L179.7,353.72 L180.2,353.79 L180.7,353.86 L181.2,353.97 L181.7,354.09 L182.2,354.24 L182.7,354.41 L183.2,354.60 L183.7,354.79 L184.2,355.01 L184.7,355.23 L185.2,355.46 L185.7,355.69 L186.2,355.93 L186.7,356.17 L187.2,356.41 L187.7,356.64 L188.2,356.90 L188.7,357.16 L189.2,357.44 L189.7,357.73 L190.2,358.02 L190.7,358.32 L191.2,358.63 L191.7,358.93 L192.2,359.23 L192.7,359.53 L193.2,359.83 L193.7,360.12 L194.2,360.39 L194.7,360.66 L195.2,360.93 L195.7,361.20 L196.2,361.47 L196.7,361.73 L197.2,362.00 L197.7,362.26 L198.2,362.51 L198.7,362.77 L199.2,363.01 L199.7,363.25 L200.2,363.48 L200.7,363.71 L201.2,363.92 L201.7,364.12 L202.2,364.32 L202.7,364.51 L203.2,364.70 L203.7,364.89 L204.2,365.07 L204.7,365.25 L205.2,365.42 L205.7,365.59 L206.2,365.76 L206.7,365.93 L207.2,366.10 L207.7,366.26 L208.2,366.42 L208.7,366.58 L209.2,366.74 L209.7,366.90 L210.2,367.06 L210.7,367.23 L211.2,367.40 L211.7,367.57 L212.2,367.75 L212.7,367.93 L213.2,368.10 L213.7,368.28 L214.2,368.46 L214.7,368.63 L215.2,368.80 L215.7,368.96 L216.2,369.12 L216.7,369.27 L217.2,369.41 L217.7,369.54 L218.2,369.66 L218.7,369.78 L219.2,369.87 L219.7,369.96 L220.2,370.03 L220.7,370.09 L221.2,370.16 L221.7,370.22 L222.2,370.28 L222.7,370.34 L223.2,370.39 L223.7,370.44 L224.2,370.50 L224.7,370.55 L225.2,370.59 L225.7,370.64 L226.2,370.68 L226.7,370.72 L227.2,370.76 L227.7,370.79 L228.2,370.83 L228.7,370.86 L229.2,370.89 L229.7,370.91 L230.2,370.94 L230.7,370.96 L231.2,370.98 L231.7,370.99 L232.2,371.01 L232.7,371.02 L233.2,371.03 L233.7,371.04 L234.2,371.05 L234.7,371.07 L235.2,371.07 L235.7,371.08 L236.2,371.09 L236.7,371.09 L237.2,371.09 L237.7,371.09 L238.2,371.08 L238.7,371.07 L239.2,371.06 L239.7,371.04 L240.2,371.01 L240.7,370.97 L241.2,370.93 L241.7,370.88 L242.2,370.82 L242.7,370.74 L243.2,370.66 L243.7,370.56 L244.2,370.45 L244.7,370.33 L245.2,370.19 L245.7,370.04 L246.2,369.87 L246.7,369.68 L247.2,369.47 L247.7,369.25 L248.2,369.00 L248.7,368.72 L249.2,368.43 L249.7,368.10 L250.2,367.75 L250.7,367.37 L251.2,366.95 L251.7,366.50 L252.2,366.02 L252.7,365.50 L253.2,364.94 L253.7,364.34 L254.2,363.70 L254.7,363.02 L255.2,362.29 L255.7,361.51 L256.2,360.69 L256.7,359.81 L257.2,358.88 L257.7,357.90 L258.2,356.87 L258.7,355.78 L259.2,354.64 L259.7,353.44 L260.2,352.18 L260.7,350.86 L261.2,349.49 L261.7,348.05 L262.2,346.56 L262.7,345.00 L263.2,343.39 L263.7,341.72 L264.2,339.99 L264.7,338.20 L265.2,336.36 L265.7,334.46 L266.2,332.50 L266.7,330.49 L267.2,328.44 L267.7,326.33 L268.2,324.18 L268.7,321.99 L269.2,319.75 L269.7,317.48 L270.2,315.18 L270.7,312.84 L271.2,310.47 L271.7,308.08 L272.2,305.67 L272.7,303.25 L273.2,300.81 L273.7,298.36 L274.2,295.91 L274.7,293.46 L275.2,291.02 L275.7,288.58 L276.2,286.16 L276.7,283.76 L277.2,281.39 L277.7,279.04 L278.2,276.72 L278.7,274.45 L279.2,272.21 L279.7,270.03 L280.2,267.89 L280.7,265.81 L281.2,263.79 L281.7,261.84 L282.2,259.96 L282.7,258.15 L283.2,256.42 L283.7,254.77 L284.2,253.20 L284.7,251.73 L285.2,250.34 L285.7,249.05 L286.2,247.86 L286.7,246.77 L287.2,245.78 L287.7,244.90 L288.2,244.13 L288.7,243.46 L289.2,242.90 L289.7,242.46 L290.2,242.13 L290.7,241.91 L291.2,241.81 L291.7,241.82 L292.2,241.93 L292.7,242.16 L293.2,242.48 L293.7,242.91 L294.2,243.44 L294.7,244.07 L295.2,244.81 L295.7,245.64 L296.2,246.56 L296.7,247.58 L297.2,248.69 L297.7,249.88 L298.2,251.16 L298.7,252.52 L299.2,253.96 L299.7,255.47 L300.2,257.06 L300.7,258.70 L301.2,260.42 L301.7,262.19 L302.2,264.01 L302.7,265.89 L303.2,267.81 L303.7,269.77 L304.2,271.78 L304.7,273.81 L305.2,275.88 L305.7,277.97 L306.2,280.08 L306.7,282.20 L307.2,284.35 L307.7,286.50 L308.2,288.65 L308.7,290.81 L309.2,292.96 L309.7,295.11 L310.2,297.25 L310.7,299.38 L311.2,301.50 L311.7,303.59 L312.2,305.67 L312.7,307.72 L313.2,309.75 L313.7,311.75 L314.2,313.72 L314.7,315.66 L315.2,317.56 L315.7,319.44 L316.2,321.27 L316.7,323.07 L317.2,324.82 L317.7,326.54 L318.2,328.22 L318.7,329.85 L319.2,331.45 L319.7,333.00 L320.2,334.51 L320.7,335.98 L321.2,337.42 L321.7,338.82 L322.2,340.18 L322.7,341.51 L323.2,342.80 L323.7,344.05 L324.2,345.27 L324.7,346.45 L325.2,347.60 L325.7,348.71 L326.2,349.78 L326.7,350.82 L327.2,351.83 L327.7,352.80 L328.2,353.74 L328.7,354.65 L329.2,355.53 L329.7,356.38 L330.2,357.20 L330.7,357.98 L331.2,358.74 L331.7,359.47 L332.2,360.18 L332.7,360.85 L333.2,361.51 L333.7,362.13 L334.2,362.73 L334.7,363.31 L335.2,363.87 L335.7,364.40 L336.2,364.91 L336.7,365.39 L337.2,365.86 L337.7,366.31 L338.2,366.74 L338.7,367.14 L339.2,367.53 L339.7,367.90 L340.2,368.26 L340.7,368.59 L341.2,368.91 L341.7,369.21 L342.2,369.50 L342.7,369.76 L343.2,370.02 L343.7,370.25 L344.2,370.48 L344.7,370.68 L345.2,370.88 L345.7,371.05 L346.2,371.22 L346.7,371.37 L347.2,371.51 L347.7,371.63 L348.2,371.75 L348.7,371.85 L349.2,371.94 L349.7,372.03 L350.2,372.10 L350.7,372.16 L351.2,372.22 L351.7,372.26 L352.2,372.30 L352.7,372.33 L353.2,372.35 L353.7,372.37 L354.2,372.38 L354.7,372.38 L355.2,372.37 L355.7,372.36 L356.2,372.35 L356.7,372.33 L357.2,372.30 L357.7,372.27 L358.2,372.24 L358.7,372.20 L359.2,372.16 L359.7,372.11 L360.2,372.06 L360.7,372.01 L361.2,371.95 L361.7,371.89 L362.2,371.83 L362.7,371.77 L363.2,371.70 L363.7,371.63 L364.2,371.57 L364.7,371.49 L365.2,371.42 L365.7,371.35 L366.2,371.27 L366.7,371.20 L367.2,371.12 L367.7,371.05 L368.2,370.97 L368.7,370.88 L369.2,370.79 L369.7,370.69 L370.2,370.58 L370.7,370.48 L371.2,370.41 L371.7,370.32 L372.2,370.23 L372.7,370.13 L373.2,370.02 L373.7,369.90 L374.2,369.78 L374.7,369.65 L375.2,369.52 L375.7,369.38 L376.2,369.23 L376.7,369.08 L377.2,368.93 L377.7,368.77 L378.2,368.61 L378.7,368.44 L379.2,368.27 L379.7,368.10 L380.2,367.93 L380.7,367.75 L381.2,367.56 L381.7,367.36 L382.2,367.16 L382.7,366.94 L383.2,366.73 L383.7,366.50 L384.2,366.27 L384.7,366.04 L385.2,365.80 L385.7,365.55 L386.2,365.31 L386.7,365.06 L387.2,364.81 L387.7,364.55 L388.2,364.30 L388.7,364.04 L389.2,363.78 L389.7,363.53 L390.2,363.27 L390.7,363.02 L391.2,362.76 L391.7,362.51 L392.2,362.26 L392.7,362.02 L393.2,361.77 L393.7,361.53 L394.2,361.30 L394.7,361.07 L395.2,360.85 L395.7,360.63 L396.2,360.42 L396.7,360.20 L397.2,359.99 L397.7,359.79 L398.2,359.58 L398.7,359.37 L399.2,359.16 L399.7,358.96 L400.2,358.75 L400.7,358.55 L401.2,358.35 L401.7,358.14 L402.2,357.94 L402.7,357.74 L403.2,357.54 L403.7,357.35 L404.2,357.15 L404.7,356.95 L405.2,356.76 L405.7,356.57 L406.2,356.37 L406.7,356.18 L407.2,355.99 L407.7,355.81 L408.2,355.62 L408.7,355.44 L409.2,355.25 L409.7,355.07 L410.2,354.89 L410.7,354.71 L411.2,354.53 L411.7,354.36 L412.2,354.18 L412.7,354.01 L413.2,353.84 L413.7,353.67 L414.2,353.50 L414.7,353.33 L415.2,353.17 L415.7,353.00 L416.2,352.84 L416.7,352.67 L417.2,352.51 L417.7,352.35 L418.2,352.19 L418.7,352.03 L419.2,351.87 L419.7,351.71 L420.2,351.56 L420.7,351.41 L421.2,351.27 L421.7,351.12 L422.2,350.99 L422.7,350.85 L423.2,350.72 L423.7,350.60 L424.2,350.48 L424.7,350.37 L425.2,350.26 L425.7,350.15 L426.2,350.04 L426.7,349.93 L427.2,349.82 L427.7,349.71 L428.2,349.60 L428.7,349.49 L429.2,349.39 L429.7,349.28 L430.2,349.18 L430.7,349.08 L431.2,348.98 L431.7,348.88 L432.2,348.79 L432.7,348.70 L433.2,348.61 L433.7,348.53 L434.2,348.45 L434.7,348.38 L435.2,348.31 L435.7,348.25 L436.2,348.19 L436.7,348.14 L437.2,348.09 L437.7,348.05 L438.2,348.02 L438.7,348.00 L439.2,347.98 L439.7,347.97 L440.2,347.95 L440.7,347.94 L441.2,347.93 L441.7,347.92 L442.2,347.92 L442.7,347.92 L443.2,347.92 L443.7,347.92 L444.2,347.92 L444.7,347.93 L445.2,347.93 L445.7,347.94 L446.2,347.95 L446.7,347.96 L447.2,347.98 L447.7,347.99 L448.2,348.01 L448.7,348.03 L449.2,348.05 L449.7,348.07 L450.2,348.09 L450.7,348.12 L451.2,348.15 L451.7,348.19 L452.2,348.22 L452.7,348.26 L453.2,348.30 L453.7,348.34 L454.2,348.38 L454.7,348.43 L455.2,348.47 L455.7,348.52 L456.2,348.57 L456.7,348.62 L457.2,348.68 L457.7,348.74 L458.2,348.80 L458.7,348.88 L459.2,348.97 L459.7,349.07 L460.2,349.17 L460.7,349.28 L461.2,349.40 L461.7,349.53 L462.2,349.66 L462.7,349.80 L463.2,349.94 L463.7,350.08 L464.2,350.23 L464.7,350.38 L465.2,350.52 L465.7,350.67 L466.2,350.82 L466.7,350.97 L467.2,351.12 L467.7,351.27 L468.2,351.43 L468.7,351.59 L469.2,351.76 L469.7,351.93 L470.2,352.11 L470.7,352.28 L471.2,352.47 L471.7,352.65 L472.2,352.83 L472.7,353.02 L473.2,353.21 L473.7,353.39 L474.2,353.58 L474.7,353.77 L475.2,353.96 L475.7,354.15 L476.2,354.34 L476.7,354.53 L477.2,354.72 L477.7,354.91 L478.2,355.10 L478.7,355.29 L479.2,355.49 L479.7,355.69 L480.2,355.88 L480.7,356.08 L481.2,356.28 L481.7,356.48 L482.2,356.68 L482.7,356.88 L483.2,357.08 L483.7,357.28 L484.2,357.48 L484.7,357.68 L485.2,357.88 L485.7,358.08 L486.2,358.28 L486.7,358.48 L487.2,358.67 L487.7,358.87 L488.2,359.07 L488.7,359.27 L489.2,359.46 L489.7,359.66 L490.2,359.86 L490.7,360.06 L491.2,360.26 L491.7,360.47 L492.2,360.67 L492.7,360.87 L493.2,361.08 L493.7,361.29 L494.2,361.50 L494.7,361.71 L495.2,361.93 L495.7,362.15 L496.2,362.37 L496.7,362.60 L497.2,362.83 L497.7,363.06 L498.2,363.29 L498.7,363.52 L499.2,363.76 L499.7,364.00 L500.2,364.23 L500.7,364.47 L501.2,364.70 L501.7,364.94 L502.2,365.17 L502.7,365.41 L503.2,365.64 L503.7,365.86 L504.2,366.09 L504.7,366.33 L505.2,366.57 L505.7,366.83 L506.2,367.09 L506.7,367.35 L507.2,367.60 L507.7,367.86 L508.2,368.11 L508.7,368.35 L509.2,368.57 L509.7,368.79 L510.2,368.98 L510.7,369.16 L511.2,369.31 L511.7,369.44 L512.2,369.54 L512.7,369.63 L513.2,369.72 L513.7,369.81 L514.2,369.89 L514.7,369.97 L515.2,370.04 L515.7,370.12 L516.2,370.19 L516.7,370.25 L517.2,370.31 L517.7,370.37 L518.2,370.43 L518.7,370.48 L519.2,370.52 L519.7,370.57 L520.2,370.61 L520.7,370.64 L521.2,370.68 L521.7,370.71 L522.2,370.73 L522.7,370.75 L523.2,370.77 L523.7,370.78 L524.2,370.79 L524.7,370.80 L525.2,370.80 L525.7,370.80 L526.2,370.80 L526.7,370.79 L527.2,370.78 L527.7,370.77 L528.2,370.76 L528.7,370.74 L529.2,370.72 L529.7,370.70 L530.2,370.68 L530.7,370.66 L531.2,370.64 L531.7,370.61 L532.2,370.58 L532.7,370.55 L533.2,370.52 L533.7,370.49 L534.2,370.45 L534.7,370.42 L535.2,370.38 L535.7,370.35 L536.2,370.31 L536.7,370.27 L537.2,370.23 L537.7,370.19 L538.2,370.15 L538.7,370.11 L539.2,370.07 L539.7,370.03 L540.2,369.98 L540.7,369.93 L541.2,369.86 L541.7,369.77 L542.2,369.68 L542.7,369.57 L543.2,369.45 L543.7,369.32 L544.2,369.19 L544.7,369.04 L545.2,368.90 L545.7,368.74 L546.2,368.58 L546.7,368.42 L547.2,368.26 L547.7,368.10 L548.2,367.93 L548.7,367.73 L549.2,367.50 L549.7,367.23 L550.2,366.93 L550.7,366.60 L551.2,366.25 L551.7,365.87 L552.2,365.47 L552.7,365.06 L553.2,364.63 L553.7,364.19 L554.2,363.74 L554.7,363.28 L555.2,362.81 L555.7,362.29 L556.2,361.72 L556.7,361.09 L557.2,360.42 L557.7,359.71 L558.2,358.97 L558.7,358.21 L559.2,357.42 L559.7,356.61 L560.2,355.80 L560.7,354.99 L561.2,354.17 L561.7,353.33 L562.2,352.47 L562.7,351.57 L563.2,350.65 L563.7,349.70 L564.2,348.73 L564.7,347.74 L565.2,346.74 L565.7,345.71 L566.2,344.67 L566.7,343.62 L567.2,342.56 L567.6,341.70" stroke="#A5A5A5"/>
<path d="M79.2,364.80 L79.7,364.98 L80.2,365.15 L80.7,365.33 L81.2,365.50 L81.7,365.67 L82.2,365.84 L82.7,366.01 L83.2,366.18 L83.7,366.34 L84.2,366.51 L84.7,366.67 L85.2,366.83 L85.7,366.99 L86.2,367.15 L86.7,367.31 L87.2,367.46 L87.7,367.62 L88.2,367.77 L88.7,367.92 L89.2,368.07 L89.7,368.21 L90.2,368.36 L90.7,368.51 L91.2,368.67 L91.7,368.83 L92.2,368.99 L92.7,369.16 L93.2,369.32 L93.7,369.49 L94.2,369.65 L94.7,369.80 L95.2,369.95 L95.7,370.10 L96.2,370.23 L96.7,370.35 L97.2,370.47 L97.7,370.56 L98.2,370.65 L98.7,370.71 L99.2,370.76 L99.7,370.79 L100.2,370.80 L100.7,370.80 L101.2,370.79 L101.7,370.77 L102.2,370.74 L102.7,370.71 L103.2,370.67 L103.7,370.62 L104.2,370.56 L104.7,370.50 L105.2,370.43 L105.7,370.35 L106.2,370.27 L106.7,370.18 L107.2,370.09 L107.7,370.00 L108.2,369.90 L108.7,369.79 L109.2,369.69 L109.7,369.58 L110.2,369.46 L110.7,369.35 L111.2,369.23 L111.7,369.11 L112.2,368.99 L112.7,368.87 L113.2,368.74 L113.7,368.62 L114.2,368.49 L114.7,368.37 L115.2,368.24 L115.7,368.12 L116.2,368.00 L116.7,367.88 L117.2,367.76 L117.7,367.64 L118.2,367.52 L118.7,367.41 L119.2,367.29 L119.7,367.17 L120.2,367.04 L120.7,366.92 L121.2,366.79 L121.7,366.66 L122.2,366.52 L122.7,366.39 L123.2,366.25 L123.7,366.12 L124.2,365.98 L124.7,365.84 L125.2,365.71 L125.7,365.57 L126.2,365.44 L126.7,365.31 L127.2,365.18 L127.7,365.05 L128.2,364.93 L128.7,364.80 L129.2,364.68 L129.7,364.57 L130.2,364.46 L130.7,364.35 L131.2,364.25 L131.7,364.15 L132.2,364.06 L132.7,363.97 L133.2,363.89 L133.7,363.80 L134.2,363.72 L134.7,363.64 L135.2,363.57 L135.7,363.49 L136.2,363.41 L136.7,363.33 L137.2,363.25 L137.7,363.17 L138.2,363.09 L138.7,363.00 L139.2,362.91 L139.7,362.82 L140.2,362.72 L140.7,362.62 L141.2,362.51 L141.7,362.40 L142.2,362.27 L142.7,362.13 L143.2,361.98 L143.7,361.81 L144.2,361.64 L144.7,361.45 L145.2,361.27 L145.7,361.08 L146.2,360.90 L146.7,360.72 L147.2,360.54 L147.7,360.38 L148.2,360.22 L148.7,360.08 L149.2,359.96 L149.7,359.85 L150.2,359.77 L150.7,359.69 L151.2,359.63 L151.7,359.57 L152.2,359.52 L152.7,359.48 L153.2,359.44 L153.7,359.41 L154.2,359.38 L154.7,359.36 L155.2,359.33 L155.7,359.31 L156.2,359.29 L156.7,359.27 L157.2,359.25 L157.7,359.23 L158.2,359.20 L158.7,359.18 L159.2,359.14 L159.7,359.11 L160.2,359.07 L160.7,359.02 L161.2,358.96 L161.7,358.90 L162.2,358.83 L162.7,358.76 L163.2,358.69 L163.7,358.61 L164.2,358.53 L164.7,358.45 L165.2,358.36 L165.7,358.28 L166.2,358.19 L166.7,358.10 L167.2,358.01 L167.7,357.91 L168.2,357.82 L168.7,357.72 L169.2,357.62 L169.7,357.52 L170.2,357.42 L170.7,357.30 L171.2,357.18 L171.7,357.05 L172.2,356.91 L172.7,356.77 L173.2,356.62 L173.7,356.48 L174.2,356.33 L174.7,356.18 L175.2,356.04 L175.7,355.89 L176.2,355.75 L176.7,355.62 L177.2,355.50 L177.7,355.38 L178.2,355.28 L178.7,355.18 L179.2,355.10 L179.7,355.04 L180.2,355.00 L180.7,354.99 L181.2,355.01 L181.7,355.04 L182.2,355.09 L182.7,355.15 L183.2,355.23 L183.7,355.33 L184.2,355.43 L184.7,355.53 L185.2,355.65 L185.7,355.79 L186.2,355.95 L186.7,356.14 L187.2,356.34 L187.7,356.57 L188.2,356.81 L188.7,357.07 L189.2,357.33 L189.7,357.61 L190.2,357.89 L190.7,358.17 L191.2,358.45 L191.7,358.73 L192.2,359.01 L192.7,359.32 L193.2,359.65 L193.7,360.00 L194.2,360.36 L194.7,360.73 L195.2,361.11 L195.7,361.48 L196.2,361.85 L196.7,362.20 L197.2,362.54 L197.7,362.85 L198.2,363.13 L198.7,363.37 L199.2,363.58 L199.7,363.76 L200.2,363.91 L200.7,364.05 L201.2,364.18 L201.7,364.30 L202.2,364.40 L202.7,364.51 L203.2,364.61 L203.7,364.71 L204.2,364.82 L204.7,364.94 L205.2,365.07 L205.7,365.21 L206.2,365.37 L206.7,365.53 L207.2,365.71 L207.7,365.90 L208.2,366.09 L208.7,366.28 L209.2,366.48 L209.7,366.68 L210.2,366.88 L210.7,367.07 L211.2,367.27 L211.7,367.46 L212.2,367.64 L212.7,367.82 L213.2,367.99 L213.7,368.15 L214.2,368.29 L214.7,368.43 L215.2,368.55 L215.7,368.66 L216.2,368.78 L216.7,368.90 L217.2,369.01 L217.7,369.12 L218.2,369.23 L218.7,369.34 L219.2,369.45 L219.7,369.55 L220.2,369.66 L220.7,369.76 L221.2,369.86 L221.7,369.95 L222.2,370.04 L222.7,370.13 L223.2,370.22 L223.7,370.30 L224.2,370.38 L224.7,370.46 L225.2,370.53 L225.7,370.60 L226.2,370.66 L226.7,370.72 L227.2,370.78 L227.7,370.83 L228.2,370.88 L228.7,370.92 L229.2,370.95 L229.7,370.98 L230.2,371.01 L230.7,371.03 L231.2,371.06 L231.7,371.08 L232.2,371.11 L232.7,371.13 L233.2,371.16 L233.7,371.18 L234.2,371.20 L234.7,371.22 L235.2,371.24 L235.7,371.26 L236.2,371.27 L236.7,371.28 L237.2,371.29 L237.7,371.30 L238.2,371.30 L238.7,371.30 L239.2,371.29 L239.7,371.28 L240.2,371.27 L240.7,371.25 L241.2,371.22 L241.7,371.18 L242.2,371.14 L242.7,371.09 L243.2,371.03 L243.7,370.96 L244.2,370.88 L244.7,370.79 L245.2,370.69 L245.7,370.58 L246.2,370.45 L246.7,370.31 L247.2,370.15 L247.7,369.98 L248.2,369.79 L248.7,369.59 L249.2,369.37 L249.7,369.13 L250.2,368.88 L250.7,368.60 L251.2,368.30 L251.7,367.98 L252.2,367.64 L252.7,367.28 L253.2,366.88 L253.7,366.47 L254.2,366.02 L254.7,365.55 L255.2,365.05 L255.7,364.52 L256.2,363.96 L256.7,363.37 L257.2,362.74 L257.7,362.08 L258.2,361.39 L258.7,360.66 L259.2,359.90 L259.7,359.10 L260.2,358.27 L260.7,357.40 L261.2,356.49 L261.7,355.55 L262.2,354.57 L262.7,353.55 L263.2,352.50 L263.7,351.41 L264.2,350.28 L264.7,349.12 L265.2,347.91 L265.7,346.67 L266.2,345.40 L266.7,344.09 L267.2,342.74 L267.7,341.37 L268.2,339.96 L268.7,338.51 L269.2,337.04 L269.7,335.55 L270.2,334.02 L270.7,332.48 L271.2,330.91 L271.7,329.32 L272.2,327.71 L272.7,326.09 L273.2,324.45 L273.7,322.81 L274.2,321.15 L274.7,319.49 L275.2,317.83 L275.7,316.17 L276.2,314.51 L276.7,312.85 L277.2,311.20 L277.7,309.57 L278.2,307.95 L278.7,306.34 L279.2,304.76 L279.7,303.19 L280.2,301.66 L280.7,300.15 L281.2,298.68 L281.7,297.24 L282.2,295.84 L282.7,294.47 L283.2,293.16 L283.7,291.88 L284.2,290.66 L284.7,289.48 L285.2,288.36 L285.7,287.30 L286.2,286.29 L286.7,285.34 L287.2,284.46 L287.7,283.64 L288.2,282.88 L288.7,282.19 L289.2,281.57 L289.7,281.02 L290.2,280.54 L290.7,280.13 L291.2,279.80 L291.7,279.54 L292.2,279.35 L292.7,279.24 L293.2,279.20 L293.7,279.24 L294.2,279.36 L294.7,279.55 L295.2,279.82 L295.7,280.16 L296.2,280.58 L296.7,281.08 L297.2,281.65 L297.7,282.28 L298.2,282.99 L298.7,283.76 L299.2,284.60 L299.7,285.51 L300.2,286.47 L300.7,287.49 L301.2,288.57 L301.7,289.69 L302.2,290.87 L302.7,292.10 L303.2,293.37 L303.7,294.68 L304.2,296.03 L304.7,297.41 L305.2,298.83 L305.7,300.27 L306.2,301.74 L306.7,303.23 L307.2,304.74 L307.7,306.27 L308.2,307.81 L308.7,309.36 L309.2,310.91 L309.7,312.47 L310.2,314.03 L310.7,315.59 L311.2,317.15 L311.7,318.70 L312.2,320.24 L312.7,321.77 L313.2,323.29 L313.7,324.79 L314.2,326.27 L314.7,327.74 L315.2,329.18 L315.7,330.61 L316.2,332.01 L316.7,333.38 L317.2,334.73 L317.7,336.05 L318.2,337.35 L318.7,338.61 L319.2,339.85 L319.7,341.05 L320.2,342.23 L320.7,343.37 L321.2,344.49 L321.7,345.57 L322.2,346.62 L322.7,347.64 L323.2,348.63 L323.7,349.59 L324.2,350.53 L324.7,351.43 L325.2,352.30 L325.7,353.15 L326.2,353.97 L326.7,354.76 L327.2,355.53 L327.7,356.27 L328.2,356.98 L328.7,357.66 L329.2,358.32 L329.7,358.96 L330.2,359.57 L330.7,360.16 L331.2,360.73 L331.7,361.27 L332.2,361.79 L332.7,362.29 L333.2,362.78 L333.7,363.24 L334.2,363.68 L334.7,364.10 L335.2,364.51 L335.7,364.90 L336.2,365.27 L336.7,365.63 L337.2,365.97 L337.7,366.30 L338.2,366.61 L338.7,366.91 L339.2,367.20 L339.7,367.47 L340.2,367.73 L340.7,367.98 L341.2,368.21 L341.7,368.44 L342.2,368.66 L342.7,368.86 L343.2,369.06 L343.7,369.24 L344.2,369.42 L344.7,369.59 L345.2,369.75 L345.7,369.90 L346.2,370.04 L346.7,370.18 L347.2,370.31 L347.7,370.43 L348.2,370.54 L348.7,370.65 L349.2,370.75 L349.7,370.84 L350.2,370.93 L350.7,371.01 L351.2,371.08 L351.7,371.15 L352.2,371.21 L352.7,371.27 L353.2,371.32 L353.7,371.37 L354.2,371.41 L354.7,371.45 L355.2,371.48 L355.7,371.51 L356.2,371.53 L356.7,371.55 L357.2,371.56 L357.7,371.58 L358.2,371.59 L358.7,371.59 L359.2,371.59 L359.7,371.59 L360.2,371.59 L360.7,371.58 L361.2,371.57 L361.7,371.55 L362.2,371.54 L362.7,371.52 L363.2,371.50 L363.7,371.48 L364.2,371.45 L364.7,371.42 L365.2,371.39 L365.7,371.36 L366.2,371.32 L366.7,371.29 L367.2,371.25 L367.7,371.21 L368.2,371.17 L368.7,371.12 L369.2,371.08 L369.7,371.03 L370.2,370.98 L370.7,370.92 L371.2,370.85 L371.7,370.77 L372.2,370.68 L372.7,370.61 L373.2,370.53 L373.7,370.44 L374.2,370.34 L374.7,370.24 L375.2,370.12 L375.7,370.00 L376.2,369.86 L376.7,369.72 L377.2,369.58 L377.7,369.43 L378.2,369.27 L378.7,369.10 L379.2,368.93 L379.7,368.76 L380.2,368.58 L380.7,368.40 L381.2,368.21 L381.7,368.02 L382.2,367.83 L382.7,367.63 L383.2,367.43 L383.7,367.23 L384.2,367.03 L384.7,366.83 L385.2,366.62 L385.7,366.42 L386.2,366.21 L386.7,366.01 L387.2,365.81 L387.7,365.61 L388.2,365.40 L388.7,365.21 L389.2,365.01 L389.7,364.81 L390.2,364.62 L390.7,364.44 L391.2,364.25 L391.7,364.07 L392.2,363.89 L392.7,363.72 L393.2,363.55 L393.7,363.39 L394.2,363.24 L394.7,363.09 L395.2,362.94 L395.7,362.80 L396.2,362.67 L396.7,362.55 L397.2,362.42 L397.7,362.30 L398.2,362.18 L398.7,362.06 L399.2,361.94 L399.7,361.83 L400.2,361.71 L400.7,361.60 L401.2,361.49 L401.7,361.38 L402.2,361.27 L402.7,361.16 L403.2,361.05 L403.7,360.95 L404.2,360.84 L404.7,360.74 L405.2,360.63 L405.7,360.53 L406.2,360.42 L406.7,360.32 L407.2,360.22 L407.7,360.11 L408.2,360.01 L408.7,359.91 L409.2,359.80 L409.7,359.70 L410.2,359.60 L410.7,359.49 L411.2,359.39 L411.7,359.28 L412.2,359.17 L412.7,359.06 L413.2,358.96 L413.7,358.85 L414.2,358.73 L414.7,358.62 L415.2,358.51 L415.7,358.39 L416.2,358.27 L416.7,358.16 L417.2,358.04 L417.7,357.92 L418.2,357.80 L418.7,357.69 L419.2,357.57 L419.7,357.46 L420.2,357.36 L420.7,357.25 L421.2,357.15 L421.7,357.05 L422.2,356.94 L422.7,356.84 L423.2,356.74 L423.7,356.64 L424.2,356.55 L424.7,356.45 L425.2,356.35 L425.7,356.26 L426.2,356.16 L426.7,356.07 L427.2,355.98 L427.7,355.89 L428.2,355.80 L428.7,355.72 L429.2,355.63 L429.7,355.55 L430.2,355.47 L430.7,355.39 L431.2,355.31 L431.7,355.23 L432.2,355.15 L432.7,355.08 L433.2,355.00 L433.7,354.92 L434.2,354.85 L434.7,354.78 L435.2,354.70 L435.7,354.63 L436.2,354.56 L436.7,354.49 L437.2,354.41 L437.7,354.34 L438.2,354.27 L438.7,354.20 L439.2,354.13 L439.7,354.05 L440.2,353.97 L440.7,353.89 L441.2,353.81 L441.7,353.72 L442.2,353.64 L442.7,353.56 L443.2,353.48 L443.7,353.41 L444.2,353.33 L444.7,353.27 L445.2,353.20 L445.7,353.15 L446.2,353.10 L446.7,353.06 L447.2,353.03 L447.7,353.01 L448.2,353.00 L448.7,353.01 L449.2,353.03 L449.7,353.07 L450.2,353.13 L450.7,353.20 L451.2,353.29 L451.7,353.38 L452.2,353.49 L452.7,353.60 L453.2,353.72 L453.7,353.85 L454.2,353.98 L454.7,354.11 L455.2,354.24 L455.7,354.37 L456.2,354.50 L456.7,354.63 L457.2,354.75 L457.7,354.87 L458.2,354.99 L458.7,355.11 L459.2,355.23 L459.7,355.36 L460.2,355.48 L460.7,355.61 L461.2,355.74 L461.7,355.87 L462.2,356.00 L462.7,356.13 L463.2,356.26 L463.7,356.39 L464.2,356.53 L464.7,356.67 L465.2,356.80 L465.7,356.94 L466.2,357.08 L466.7,357.22 L467.2,357.36 L467.7,357.50 L468.2,357.64 L468.7,357.78 L469.2,357.92 L469.7,358.06 L470.2,358.21 L470.7,358.35 L471.2,358.49 L471.7,358.64 L472.2,358.78 L472.7,358.92 L473.2,359.07 L473.7,359.21 L474.2,359.36 L474.7,359.50 L475.2,359.64 L475.7,359.79 L476.2,359.93 L476.7,360.07 L477.2,360.22 L477.7,360.36 L478.2,360.51 L478.7,360.65 L479.2,360.80 L479.7,360.94 L480.2,361.09 L480.7,361.24 L481.2,361.39 L481.7,361.53 L482.2,361.68 L482.7,361.83 L483.2,361.98 L483.7,362.13 L484.2,362.28 L484.7,362.43 L485.2,362.58 L485.7,362.73 L486.2,362.88 L486.7,363.03 L487.2,363.18 L487.7,363.34 L488.2,363.49 L488.7,363.64 L489.2,363.79 L489.7,363.94 L490.2,364.09 L490.7,364.24 L491.2,364.39 L491.7,364.54 L492.2,364.69 L492.7,364.84 L493.2,364.99 L493.7,365.14 L494.2,365.29 L494.7,365.44 L495.2,365.59 L495.7,365.74 L496.2,365.90 L496.7,366.06 L497.2,366.22 L497.7,366.39 L498.2,366.55 L498.7,366.71 L499.2,366.88 L499.7,367.04 L500.2,367.20 L500.7,367.36 L501.2,367.51 L501.7,367.66 L502.2,367.81 L502.7,367.95 L503.2,368.08 L503.7,368.21 L504.2,368.33 L504.7,368.44 L505.2,368.54 L505.7,368.64 L506.2,368.74 L506.7,368.83 L507.2,368.92 L507.7,369.02 L508.2,369.10 L508.7,369.19 L509.2,369.28 L509.7,369.36 L510.2,369.44 L510.7,369.52 L511.2,369.59 L511.7,369.67 L512.2,369.74 L512.7,369.81 L513.2,369.87 L513.7,369.94 L514.2,370.00 L514.7,370.06 L515.2,370.11 L515.7,370.16 L516.2,370.21 L516.7,370.26 L517.2,370.31 L517.7,370.35 L518.2,370.39 L518.7,370.42 L519.2,370.45 L519.7,370.48 L520.2,370.51 L520.7,370.53 L521.2,370.55 L521.7,370.57 L522.2,370.59 L522.7,370.60 L523.2,370.61 L523.7,370.62 L524.2,370.63 L524.7,370.63 L525.2,370.63 L525.7,370.63 L526.2,370.63 L526.7,370.62 L527.2,370.62 L527.7,370.61 L528.2,370.60 L528.7,370.59 L529.2,370.57 L529.7,370.56 L530.2,370.54 L530.7,370.52 L531.2,370.50 L531.7,370.48 L532.2,370.46 L532.7,370.44 L533.2,370.41 L533.7,370.39 L534.2,370.36 L534.7,370.33 L535.2,370.30 L535.7,370.28 L536.2,370.25 L536.7,370.21 L537.2,370.18 L537.7,370.15 L538.2,370.12 L538.7,370.09 L539.2,370.05 L539.7,370.02 L540.2,369.99 L540.7,369.94 L541.2,369.88 L541.7,369.81 L542.2,369.73 L542.7,369.64 L543.2,369.54 L543.7,369.43 L544.2,369.31 L544.7,369.18 L545.2,369.05 L545.7,368.91 L546.2,368.76 L546.7,368.61 L547.2,368.45 L547.7,368.29 L548.2,368.12 L548.7,367.95 L549.2,367.78 L549.7,367.61 L550.2,367.43 L550.7,367.20 L551.2,366.93 L551.7,366.62 L552.2,366.27 L552.7,365.90 L553.2,365.50 L553.7,365.09 L554.2,364.67 L554.7,364.25 L555.2,363.83 L555.7,363.38 L556.2,362.90 L556.7,362.39 L557.2,361.86 L557.7,361.30 L558.2,360.72 L558.7,360.12 L559.2,359.50 L559.7,358.85 L560.2,358.16 L560.7,357.43 L561.2,356.69 L561.7,355.93 L562.2,355.18 L562.7,354.43 L563.2,353.71 L563.7,353.00 L564.2,352.29 L564.7,351.58 L565.2,350.87 L565.7,350.17 L566.2,349.46 L566.7,348.76 L567.2,348.06 L567.6,347.50" stroke="#FFC000"/>
<path d="M79.2,362.50 L79.7,362.70 L80.2,362.90 L80.7,363.10 L81.2,363.31 L81.7,363.51 L82.2,363.72 L82.7,363.94 L83.2,364.15 L83.7,364.37 L84.2,364.59 L84.7,364.81 L85.2,365.03 L85.7,365.25 L86.2,365.48 L86.7,365.70 L87.2,365.93 L87.7,366.16 L88.2,366.39 L88.7,366.63 L89.2,366.88 L89.7,367.14 L90.2,367.40 L90.7,367.67 L91.2,367.93 L91.7,368.19 L92.2,368.45 L92.7,368.70 L93.2,368.94 L93.7,369.17 L94.2,369.39 L94.7,369.61 L95.2,369.83 L95.7,370.04 L96.2,370.25 L96.7,370.44 L97.2,370.61 L97.7,370.76 L98.2,370.87 L98.7,370.96 L99.2,371.00 L99.7,371.00 L100.2,370.94 L100.7,370.83 L101.2,370.66 L101.7,370.44 L102.2,370.18 L102.7,369.89 L103.2,369.56 L103.7,369.22 L104.2,368.85 L104.7,368.48 L105.2,368.10 L105.7,367.73 L106.2,367.36 L106.7,367.00 L107.2,366.65 L107.7,366.28 L108.2,365.89 L108.7,365.50 L109.2,365.10 L109.7,364.70 L110.2,364.29 L110.7,363.87 L111.2,363.46 L111.7,363.05 L112.2,362.64 L112.7,362.24 L113.2,361.82 L113.7,361.40 L114.2,360.97 L114.7,360.53 L115.2,360.10 L115.7,359.67 L116.2,359.26 L116.7,358.85 L117.2,358.47 L117.7,358.10 L118.2,357.76 L118.7,357.46 L119.2,357.17 L119.7,356.91 L120.2,356.67 L120.7,356.44 L121.2,356.21 L121.7,355.99 L122.2,355.77 L122.7,355.55 L123.2,355.32 L123.7,355.07 L124.2,354.80 L124.7,354.52 L125.2,354.24 L125.7,353.95 L126.2,353.65 L126.7,353.35 L127.2,353.05 L127.7,352.75 L128.2,352.44 L128.7,352.13 L129.2,351.81 L129.7,351.49 L130.2,351.17 L130.7,350.85 L131.2,350.51 L131.7,350.18 L132.2,349.84 L132.7,349.50 L133.2,349.15 L133.7,348.80 L134.2,348.44 L134.7,348.08 L135.2,347.72 L135.7,347.35 L136.2,346.97 L136.7,346.56 L137.2,346.14 L137.7,345.70 L138.2,345.26 L138.7,344.84 L139.2,344.45 L139.7,344.09 L140.2,343.78 L140.7,343.49 L141.2,343.21 L141.7,342.95 L142.2,342.70 L142.7,342.47 L143.2,342.24 L143.7,342.02 L144.2,341.81 L144.7,341.62 L145.2,341.42 L145.7,341.23 L146.2,341.05 L146.7,340.86 L147.2,340.68 L147.7,340.50 L148.2,340.34 L148.7,340.17 L149.2,340.02 L149.7,339.88 L150.2,339.75 L150.7,339.62 L151.2,339.49 L151.7,339.37 L152.2,339.25 L152.7,339.13 L153.2,339.02 L153.7,338.92 L154.2,338.83 L154.7,338.75 L155.2,338.67 L155.7,338.60 L156.2,338.54 L156.7,338.48 L157.2,338.42 L157.7,338.36 L158.2,338.30 L158.7,338.25 L159.2,338.19 L159.7,338.13 L160.2,338.08 L160.7,338.02 L161.2,337.98 L161.7,337.93 L162.2,337.89 L162.7,337.85 L163.2,337.80 L163.7,337.76 L164.2,337.71 L164.7,337.66 L165.2,337.60 L165.7,337.53 L166.2,337.45 L166.7,337.36 L167.2,337.24 L167.7,337.08 L168.2,336.89 L168.7,336.67 L169.2,336.44 L169.7,336.19 L170.2,335.94 L170.7,335.69 L171.2,335.44 L171.7,335.20 L172.2,334.98 L172.7,334.78 L173.2,334.56 L173.7,334.34 L174.2,334.11 L174.7,333.88 L175.2,333.66 L175.7,333.44 L176.2,333.22 L176.7,333.02 L177.2,332.83 L177.7,332.67 L178.2,332.52 L178.7,332.39 L179.2,332.30 L179.7,332.27 L180.2,332.32 L180.7,332.44 L181.2,332.61 L181.7,332.81 L182.2,333.04 L182.7,333.27 L183.2,333.49 L183.7,333.77 L184.2,334.10 L184.7,334.49 L185.2,334.91 L185.7,335.39 L186.2,335.95 L186.7,336.56 L187.2,337.19 L187.7,337.80 L188.2,338.40 L188.7,339.02 L189.2,339.63 L189.7,340.24 L190.2,340.84 L190.7,341.42 L191.2,342.01 L191.7,342.58 L192.2,343.17 L192.7,343.75 L193.2,344.34 L193.7,344.93 L194.2,345.52 L194.7,346.11 L195.2,346.70 L195.7,347.28 L196.2,347.86 L196.7,348.44 L197.2,349.02 L197.7,349.63 L198.2,350.26 L198.7,350.92 L199.2,351.62 L199.7,352.33 L200.2,353.04 L200.7,353.72 L201.2,354.38 L201.7,354.99 L202.2,355.60 L202.7,356.21 L203.2,356.80 L203.7,357.38 L204.2,357.94 L204.7,358.48 L205.2,359.01 L205.7,359.51 L206.2,359.99 L206.7,360.45 L207.2,360.90 L207.7,361.33 L208.2,361.74 L208.7,362.15 L209.2,362.54 L209.7,362.92 L210.2,363.31 L210.7,363.69 L211.2,364.08 L211.7,364.44 L212.2,364.77 L212.7,365.06 L213.2,365.28 L213.7,365.48 L214.2,365.67 L214.7,365.83 L215.2,365.99 L215.7,366.14 L216.2,366.28 L216.7,366.42 L217.2,366.55 L217.7,366.69 L218.2,366.82 L218.7,366.94 L219.2,367.07 L219.7,367.19 L220.2,367.31 L220.7,367.43 L221.2,367.55 L221.7,367.66 L222.2,367.77 L222.7,367.88 L223.2,367.98 L223.7,368.07 L224.2,368.17 L224.7,368.26 L225.2,368.35 L225.7,368.43 L226.2,368.52 L226.7,368.60 L227.2,368.68 L227.7,368.75 L228.2,368.83 L228.7,368.90 L229.2,368.97 L229.7,369.05 L230.2,369.16 L230.7,369.30 L231.2,369.46 L231.7,369.63 L232.2,369.79 L232.7,369.94 L233.2,370.06 L233.7,370.15 L234.2,370.19 L234.7,370.18 L235.2,370.10 L235.7,369.94 L236.2,369.69 L236.7,369.41 L237.2,369.09 L237.7,368.74 L238.2,368.36 L238.7,367.94 L239.2,367.49 L239.7,367.00 L240.2,366.47 L240.7,365.90 L241.2,365.30 L241.7,364.65 L242.2,363.95 L242.7,363.22 L243.2,362.43 L243.7,361.59 L244.2,360.71 L244.7,359.77 L245.2,358.78 L245.7,357.73 L246.2,356.62 L246.7,355.45 L247.2,354.22 L247.7,352.92 L248.2,351.56 L248.7,350.13 L249.2,348.62 L249.7,347.04 L250.2,345.39 L250.7,343.66 L251.2,341.85 L251.7,339.95 L252.2,337.97 L252.7,335.91 L253.2,333.76 L253.7,331.52 L254.2,329.19 L254.7,326.77 L255.2,324.25 L255.7,321.63 L256.2,318.91 L256.7,316.08 L257.2,313.15 L257.7,310.10 L258.2,306.95 L258.7,303.70 L259.2,300.33 L259.7,296.86 L260.2,293.28 L260.7,289.59 L261.2,285.80 L261.7,281.91 L262.2,277.93 L262.7,273.84 L263.2,269.66 L263.7,265.39 L264.2,261.03 L264.7,256.59 L265.2,252.08 L265.7,247.49 L266.2,242.83 L266.7,238.12 L267.2,233.34 L267.7,228.52 L268.2,223.66 L268.7,218.77 L269.2,213.85 L269.7,208.92 L270.2,203.97 L270.7,199.03 L271.2,194.09 L271.7,189.17 L272.2,184.29 L272.7,179.44 L273.2,174.63 L273.7,169.89 L274.2,165.21 L274.7,160.62 L275.2,156.11 L275.7,151.70 L276.2,147.40 L276.7,143.22 L277.2,139.17 L277.7,135.26 L278.2,131.50 L278.7,127.90 L279.2,124.46 L279.7,121.20 L280.2,118.13 L280.7,115.25 L281.2,112.57 L281.7,110.10 L282.2,107.84 L282.7,105.81 L283.2,104.00 L283.7,102.42 L284.2,101.08 L284.7,99.97 L285.2,99.11 L285.7,98.49 L286.2,98.12 L286.7,98.00 L287.2,98.09 L287.7,98.37 L288.2,98.84 L288.7,99.49 L289.2,100.33 L289.7,101.35 L290.2,102.54 L290.7,103.92 L291.2,105.47 L291.7,107.19 L292.2,109.08 L292.7,111.13 L293.2,113.35 L293.7,115.72 L294.2,118.23 L294.7,120.90 L295.2,123.70 L295.7,126.64 L296.2,129.71 L296.7,132.90 L297.2,136.21 L297.7,139.63 L298.2,143.15 L298.7,146.77 L299.2,150.48 L299.7,154.28 L300.2,158.15 L300.7,162.09 L301.2,166.10 L301.7,170.17 L302.2,174.28 L302.7,178.44 L303.2,182.64 L303.7,186.87 L304.2,191.12 L304.7,195.39 L305.2,199.67 L305.7,203.95 L306.2,208.24 L306.7,212.52 L307.2,216.79 L307.7,221.04 L308.2,225.27 L308.7,229.47 L309.2,233.63 L309.7,237.77 L310.2,241.86 L310.7,245.90 L311.2,249.89 L311.7,253.84 L312.2,257.72 L312.7,261.55 L313.2,265.31 L313.7,269.01 L314.2,272.64 L314.7,276.20 L315.2,279.69 L315.7,283.10 L316.2,286.44 L316.7,289.70 L317.2,292.88 L317.7,295.99 L318.2,299.01 L318.7,301.96 L319.2,304.82 L319.7,307.60 L320.2,310.30 L320.7,312.93 L321.2,315.47 L321.7,317.93 L322.2,320.32 L322.7,322.62 L323.2,324.85 L323.7,327.01 L324.2,329.08 L324.7,331.09 L325.2,333.02 L325.7,334.88 L326.2,336.66 L326.7,338.38 L327.2,340.03 L327.7,341.62 L328.2,343.14 L328.7,344.60 L329.2,346.00 L329.7,347.34 L330.2,348.62 L330.7,349.84 L331.2,351.01 L331.7,352.13 L332.2,353.20 L332.7,354.21 L333.2,355.18 L333.7,356.10 L334.2,356.98 L334.7,357.82 L335.2,358.61 L335.7,359.37 L336.2,360.09 L336.7,360.77 L337.2,361.41 L337.7,362.03 L338.2,362.61 L338.7,363.16 L339.2,363.68 L339.7,364.17 L340.2,364.64 L340.7,365.08 L341.2,365.49 L341.7,365.88 L342.2,366.25 L342.7,366.60 L343.2,366.93 L343.7,367.24 L344.2,367.53 L344.7,367.81 L345.2,368.07 L345.7,368.32 L346.2,368.55 L346.7,368.78 L347.2,368.99 L347.7,369.19 L348.2,369.38 L348.7,369.56 L349.2,369.73 L349.7,369.89 L350.2,370.04 L350.7,370.18 L351.2,370.31 L351.7,370.43 L352.2,370.54 L352.7,370.63 L353.2,370.71 L353.7,370.76 L354.2,370.81 L354.7,370.83 L355.2,370.85 L355.7,370.85 L356.2,370.85 L356.7,370.83 L357.2,370.81 L357.7,370.78 L358.2,370.75 L358.7,370.71 L359.2,370.67 L359.7,370.63 L360.2,370.58 L360.7,370.52 L361.2,370.45 L361.7,370.36 L362.2,370.25 L362.7,370.13 L363.2,369.99 L363.7,369.84 L364.2,369.69 L364.7,369.52 L365.2,369.34 L365.7,369.15 L366.2,368.96 L366.7,368.76 L367.2,368.55 L367.7,368.34 L368.2,368.12 L368.7,367.88 L369.2,367.62 L369.7,367.33 L370.2,367.04 L370.7,366.73 L371.2,366.41 L371.7,366.08 L372.2,365.74 L372.7,365.40 L373.2,365.07 L373.7,364.73 L374.2,364.39 L374.7,364.06 L375.2,363.74 L375.7,363.41 L376.2,363.08 L376.7,362.75 L377.2,362.42 L377.7,362.08 L378.2,361.74 L378.7,361.40 L379.2,361.05 L379.7,360.71 L380.2,360.36 L380.7,360.01 L381.2,359.67 L381.7,359.32 L382.2,358.98 L382.7,358.63 L383.2,358.28 L383.7,357.93 L384.2,357.57 L384.7,357.21 L385.2,356.85 L385.7,356.48 L386.2,356.11 L386.7,355.72 L387.2,355.34 L387.7,354.94 L388.2,354.54 L388.7,354.12 L389.2,353.69 L389.7,353.25 L390.2,352.79 L390.7,352.33 L391.2,351.86 L391.7,351.39 L392.2,350.91 L392.7,350.43 L393.2,349.94 L393.7,349.46 L394.2,348.98 L394.7,348.50 L395.2,348.02 L395.7,347.55 L396.2,347.09 L396.7,346.63 L397.2,346.19 L397.7,345.75 L398.2,345.33 L398.7,344.92 L399.2,344.52 L399.7,344.12 L400.2,343.73 L400.7,343.34 L401.2,342.96 L401.7,342.58 L402.2,342.20 L402.7,341.83 L403.2,341.46 L403.7,341.09 L404.2,340.72 L404.7,340.34 L405.2,339.97 L405.7,339.59 L406.2,339.21 L406.7,338.83 L407.2,338.44 L407.7,338.04 L408.2,337.64 L408.7,337.23 L409.2,336.81 L409.7,336.38 L410.2,335.95 L410.7,335.51 L411.2,335.07 L411.7,334.63 L412.2,334.19 L412.7,333.74 L413.2,333.30 L413.7,332.86 L414.2,332.43 L414.7,332.00 L415.2,331.58 L415.7,331.17 L416.2,330.76 L416.7,330.37 L417.2,329.98 L417.7,329.62 L418.2,329.26 L418.7,328.91 L419.2,328.56 L419.7,328.21 L420.2,327.87 L420.7,327.54 L421.2,327.21 L421.7,326.88 L422.2,326.56 L422.7,326.25 L423.2,325.94 L423.7,325.64 L424.2,325.35 L424.7,325.06 L425.2,324.78 L425.7,324.52 L426.2,324.26 L426.7,324.01 L427.2,323.76 L427.7,323.53 L428.2,323.31 L428.7,323.09 L429.2,322.88 L429.7,322.66 L430.2,322.45 L430.7,322.23 L431.2,322.03 L431.7,321.82 L432.2,321.62 L432.7,321.43 L433.2,321.24 L433.7,321.05 L434.2,320.88 L434.7,320.71 L435.2,320.54 L435.7,320.39 L436.2,320.24 L436.7,320.11 L437.2,319.98 L437.7,319.86 L438.2,319.76 L438.7,319.65 L439.2,319.55 L439.7,319.45 L440.2,319.35 L440.7,319.25 L441.2,319.16 L441.7,319.06 L442.2,318.98 L442.7,318.89 L443.2,318.81 L443.7,318.74 L444.2,318.67 L444.7,318.61 L445.2,318.56 L445.7,318.51 L446.2,318.47 L446.7,318.44 L447.2,318.42 L447.7,318.40 L448.2,318.40 L448.7,318.41 L449.2,318.44 L449.7,318.47 L450.2,318.52 L450.7,318.58 L451.2,318.65 L451.7,318.73 L452.2,318.82 L452.7,318.91 L453.2,319.01 L453.7,319.12 L454.2,319.23 L454.7,319.35 L455.2,319.46 L455.7,319.59 L456.2,319.71 L456.7,319.83 L457.2,319.95 L457.7,320.08 L458.2,320.21 L458.7,320.37 L459.2,320.53 L459.7,320.71 L460.2,320.90 L460.7,321.11 L461.2,321.32 L461.7,321.55 L462.2,321.78 L462.7,322.03 L463.2,322.28 L463.7,322.54 L464.2,322.81 L464.7,323.09 L465.2,323.37 L465.7,323.66 L466.2,323.95 L466.7,324.24 L467.2,324.54 L467.7,324.87 L468.2,325.21 L468.7,325.56 L469.2,325.94 L469.7,326.32 L470.2,326.72 L470.7,327.13 L471.2,327.54 L471.7,327.97 L472.2,328.40 L472.7,328.83 L473.2,329.27 L473.7,329.71 L474.2,330.15 L474.7,330.59 L475.2,331.03 L475.7,331.46 L476.2,331.88 L476.7,332.31 L477.2,332.74 L477.7,333.17 L478.2,333.60 L478.7,334.04 L479.2,334.47 L479.7,334.91 L480.2,335.36 L480.7,335.80 L481.2,336.25 L481.7,336.70 L482.2,337.15 L482.7,337.60 L483.2,338.06 L483.7,338.52 L484.2,338.98 L484.7,339.45 L485.2,339.92 L485.7,340.39 L486.2,340.87 L486.7,341.36 L487.2,341.86 L487.7,342.36 L488.2,342.87 L488.7,343.39 L489.2,343.90 L489.7,344.42 L490.2,344.94 L490.7,345.46 L491.2,345.97 L491.7,346.49 L492.2,346.99 L492.7,347.50 L493.2,347.99 L493.7,348.48 L494.2,348.95 L494.7,349.42 L495.2,349.87 L495.7,350.32 L496.2,350.76 L496.7,351.19 L497.2,351.62 L497.7,352.05 L498.2,352.47 L498.7,352.89 L499.2,353.30 L499.7,353.71 L500.2,354.12 L500.7,354.53 L501.2,354.94 L501.7,355.34 L502.2,355.75 L502.7,356.15 L503.2,356.56 L503.7,356.97 L504.2,357.38 L504.7,357.79 L505.2,358.20 L505.7,358.61 L506.2,359.01 L506.7,359.41 L507.2,359.81 L507.7,360.21 L508.2,360.61 L508.7,361.01 L509.2,361.43 L509.7,361.86 L510.2,362.31 L510.7,362.79 L511.2,363.34 L511.7,363.95 L512.2,364.58 L512.7,365.21 L513.2,365.84 L513.7,366.44 L514.2,366.98 L514.7,367.45 L515.2,367.83 L515.7,368.10 L516.2,368.33 L516.7,368.54 L517.2,368.73 L517.7,368.90 L518.2,369.04 L518.7,369.15 L519.2,369.23 L519.7,369.28 L520.2,369.31 L520.7,369.33 L521.2,369.34 L521.7,369.35 L522.2,369.36 L522.7,369.36 L523.2,369.35 L523.7,369.33 L524.2,369.29 L524.7,369.25 L525.2,369.19 L525.7,369.12 L526.2,369.02 L526.7,368.89 L527.2,368.74 L527.7,368.57 L528.2,368.39 L528.7,368.21 L529.2,368.03 L529.7,367.88 L530.2,367.74 L530.7,367.63 L531.2,367.56 L531.7,367.49 L532.2,367.43 L532.7,367.37 L533.2,367.32 L533.7,367.27 L534.2,367.23 L534.7,367.19 L535.2,367.15 L535.7,367.12 L536.2,367.09 L536.7,367.07 L537.2,367.06 L537.7,367.06 L538.2,367.06 L538.7,367.06 L539.2,367.06 L539.7,367.06 L540.2,367.05 L540.7,367.03 L541.2,367.00 L541.7,366.93 L542.2,366.81 L542.7,366.65 L543.2,366.48 L543.7,366.30 L544.2,366.14 L544.7,365.96 L545.2,365.77 L545.7,365.55 L546.2,365.32 L546.7,365.07 L547.2,364.79 L547.7,364.50 L548.2,364.11 L548.7,363.58 L549.2,362.92 L549.7,362.16 L550.2,361.33 L550.7,360.45 L551.2,359.54 L551.7,358.63 L552.2,357.60 L552.7,356.46 L553.2,355.22 L553.7,353.91 L554.2,352.53 L554.7,351.12 L555.2,349.69 L555.7,348.23 L556.2,346.69 L556.7,345.08 L557.2,343.40 L557.7,341.64 L558.2,339.82 L558.7,337.94 L559.2,336.00 L559.7,333.96 L560.2,331.79 L560.7,329.52 L561.2,327.19 L561.7,324.82 L562.2,322.44 L562.7,320.09 L563.2,317.78 L563.7,315.48 L564.2,313.18 L564.7,310.87 L565.2,308.56 L565.7,306.24 L566.2,303.92 L566.7,301.59 L567.2,299.27 L567.6,297.40" stroke="#5B9BD5"/>
<path d="M79.2,367.50 L79.7,367.62 L80.2,367.74 L80.7,367.87 L81.2,367.99 L81.7,368.12 L82.2,368.24 L82.7,368.37 L83.2,368.49 L83.7,368.61 L84.2,368.74 L84.7,368.86 L85.2,368.97 L85.7,369.09 L86.2,369.20 L86.7,369.32 L87.2,369.42 L87.7,369.53 L88.2,369.63 L88.7,369.73 L89.2,369.82 L89.7,369.91 L90.2,369.99 L90.7,370.07 L91.2,370.15 L91.7,370.21 L92.2,370.28 L92.7,370.33 L93.2,370.38 L93.7,370.42 L94.2,370.46 L94.7,370.49 L95.2,370.51 L95.7,370.53 L96.2,370.55 L96.7,370.57 L97.2,370.59 L97.7,370.61 L98.2,370.62 L98.7,370.64 L99.2,370.66 L99.7,370.68 L100.2,370.70 L100.7,370.72 L101.2,370.74 L101.7,370.76 L102.2,370.78 L102.7,370.79 L103.2,370.81 L103.7,370.83 L104.2,370.85 L104.7,370.86 L105.2,370.88 L105.7,370.89 L106.2,370.91 L106.7,370.92 L107.2,370.94 L107.7,370.95 L108.2,370.96 L108.7,370.97 L109.2,370.98 L109.7,370.99 L110.2,371.00 L110.7,371.01 L111.2,371.02 L111.7,371.03 L112.2,371.04 L112.7,371.04 L113.2,371.05 L113.7,371.05 L114.2,371.05 L114.7,371.05 L115.2,371.05 L115.7,371.05 L116.2,371.05 L116.7,371.05 L117.2,371.04 L117.7,371.04 L118.2,371.03 L118.7,371.03 L119.2,371.02 L119.7,371.01 L120.2,371.00 L120.7,370.98 L121.2,370.97 L121.7,370.96 L122.2,370.95 L122.7,370.93 L123.2,370.92 L123.7,370.91 L124.2,370.90 L124.7,370.88 L125.2,370.87 L125.7,370.86 L126.2,370.84 L126.7,370.83 L127.2,370.82 L127.7,370.80 L128.2,370.79 L128.7,370.78 L129.2,370.76 L129.7,370.75 L130.2,370.73 L130.7,370.72 L131.2,370.71 L131.7,370.69 L132.2,370.68 L132.7,370.66 L133.2,370.65 L133.7,370.63 L134.2,370.62 L134.7,370.60 L135.2,370.59 L135.7,370.57 L136.2,370.56 L136.7,370.54 L137.2,370.53 L137.7,370.51 L138.2,370.50 L138.7,370.48 L139.2,370.46 L139.7,370.45 L140.2,370.43 L140.7,370.42 L141.2,370.40 L141.7,370.39 L142.2,370.37 L142.7,370.35 L143.2,370.34 L143.7,370.32 L144.2,370.30 L144.7,370.29 L145.2,370.27 L145.7,370.26 L146.2,370.24 L146.7,370.22 L147.2,370.21 L147.7,370.19 L148.2,370.17 L148.7,370.16 L149.2,370.14 L149.7,370.12 L150.2,370.11 L150.7,370.09 L151.2,370.07 L151.7,370.06 L152.2,370.04 L152.7,370.02 L153.2,370.01 L153.7,369.99 L154.2,369.97 L154.7,369.95 L155.2,369.94 L155.7,369.92 L156.2,369.90 L156.7,369.88 L157.2,369.86 L157.7,369.84 L158.2,369.82 L158.7,369.80 L159.2,369.78 L159.7,369.76 L160.2,369.74 L160.7,369.72 L161.2,369.69 L161.7,369.67 L162.2,369.65 L162.7,369.63 L163.2,369.61 L163.7,369.58 L164.2,369.56 L164.7,369.54 L165.2,369.52 L165.7,369.49 L166.2,369.47 L166.7,369.45 L167.2,369.43 L167.7,369.40 L168.2,369.38 L168.7,369.36 L169.2,369.34 L169.7,369.31 L170.2,369.29 L170.7,369.27 L171.2,369.25 L171.7,369.23 L172.2,369.21 L172.7,369.19 L173.2,369.17 L173.7,369.15 L174.2,369.13 L174.7,369.11 L175.2,369.09 L175.7,369.07 L176.2,369.05 L176.7,369.03 L177.2,369.01 L177.7,368.99 L178.2,368.98 L178.7,368.96 L179.2,368.95 L179.7,368.93 L180.2,368.91 L180.7,368.90 L181.2,368.89 L181.7,368.87 L182.2,368.86 L182.7,368.85 L183.2,368.84 L183.7,368.83 L184.2,368.81 L184.7,368.81 L185.2,368.80 L185.7,368.79 L186.2,368.79 L186.7,368.79 L187.2,368.79 L187.7,368.79 L188.2,368.80 L188.7,368.81 L189.2,368.81 L189.7,368.83 L190.2,368.84 L190.7,368.85 L191.2,368.87 L191.7,368.89 L192.2,368.91 L192.7,368.93 L193.2,368.95 L193.7,368.97 L194.2,368.99 L194.7,369.01 L195.2,369.03 L195.7,369.06 L196.2,369.08 L196.7,369.10 L197.2,369.12 L197.7,369.15 L198.2,369.18 L198.7,369.21 L199.2,369.24 L199.7,369.27 L200.2,369.31 L200.7,369.34 L201.2,369.38 L201.7,369.42 L202.2,369.46 L202.7,369.50 L203.2,369.54 L203.7,369.58 L204.2,369.62 L204.7,369.65 L205.2,369.69 L205.7,369.73 L206.2,369.77 L206.7,369.80 L207.2,369.84 L207.7,369.87 L208.2,369.90 L208.7,369.93 L209.2,369.96 L209.7,369.99 L210.2,370.01 L210.7,370.03 L211.2,370.05 L211.7,370.08 L212.2,370.10 L212.7,370.12 L213.2,370.14 L213.7,370.16 L214.2,370.18 L214.7,370.20 L215.2,370.22 L215.7,370.24 L216.2,370.26 L216.7,370.28 L217.2,370.30 L217.7,370.32 L218.2,370.34 L218.7,370.36 L219.2,370.37 L219.7,370.39 L220.2,370.41 L220.7,370.43 L221.2,370.44 L221.7,370.46 L222.2,370.48 L222.7,370.50 L223.2,370.51 L223.7,370.53 L224.2,370.54 L224.7,370.56 L225.2,370.58 L225.7,370.59 L226.2,370.61 L226.7,370.62 L227.2,370.64 L227.7,370.65 L228.2,370.67 L228.7,370.68 L229.2,370.70 L229.7,370.71 L230.2,370.73 L230.7,370.74 L231.2,370.76 L231.7,370.77 L232.2,370.79 L232.7,370.80 L233.2,370.81 L233.7,370.83 L234.2,370.84 L234.7,370.86 L235.2,370.87 L235.7,370.88 L236.2,370.90 L236.7,370.91 L237.2,370.92 L237.7,370.94 L238.2,370.95 L238.7,370.96 L239.2,370.98 L239.7,370.99 L240.2,371.01 L240.7,371.02 L241.2,371.03 L241.7,371.04 L242.2,371.04 L242.7,371.05 L243.2,371.05 L243.7,371.06 L244.2,371.06 L244.7,371.06 L245.2,371.06 L245.7,371.06 L246.2,371.06 L246.7,371.06 L247.2,371.05 L247.7,371.05 L248.2,371.04 L248.7,371.04 L249.2,371.03 L249.7,371.03 L250.2,371.02 L250.7,371.02 L251.2,371.01 L251.7,371.00 L252.2,371.00 L252.7,370.98 L253.2,370.94 L253.7,370.89 L254.2,370.83 L254.7,370.76 L255.2,370.67 L255.7,370.57 L256.2,370.46 L256.7,370.34 L257.2,370.21 L257.7,370.07 L258.2,369.93 L258.7,369.77 L259.2,369.61 L259.7,369.44 L260.2,369.27 L260.7,369.09 L261.2,368.90 L261.7,368.71 L262.2,368.52 L262.7,368.28 L263.2,367.98 L263.7,367.65 L264.2,367.30 L264.7,366.92 L265.2,366.53 L265.7,366.14 L266.2,365.76 L266.7,365.40 L267.2,365.05 L267.7,364.71 L268.2,364.36 L268.7,364.01 L269.2,363.66 L269.7,363.30 L270.2,362.94 L270.7,362.56 L271.2,362.18 L271.7,361.78 L272.2,361.36 L272.7,360.94 L273.2,360.49 L273.7,360.04 L274.2,359.59 L274.7,359.12 L275.2,358.65 L275.7,358.18 L276.2,357.71 L276.7,357.23 L277.2,356.75 L277.7,356.25 L278.2,355.76 L278.7,355.25 L279.2,354.75 L279.7,354.23 L280.2,353.72 L280.7,353.20 L281.2,352.67 L281.7,352.12 L282.2,351.56 L282.7,351.00 L283.2,350.43 L283.7,349.87 L284.2,349.32 L284.7,348.80 L285.2,348.29 L285.7,347.81 L286.2,347.33 L286.7,346.84 L287.2,346.37 L287.7,345.91 L288.2,345.48 L288.7,345.09 L289.2,344.74 L289.7,344.45 L290.2,344.21 L290.7,344.00 L291.2,343.79 L291.7,343.60 L292.2,343.43 L292.7,343.27 L293.2,343.12 L293.7,343.00 L294.2,342.89 L294.7,342.80 L295.2,342.72 L295.7,342.64 L296.2,342.57 L296.7,342.50 L297.2,342.43 L297.7,342.37 L298.2,342.31 L298.7,342.26 L299.2,342.21 L299.7,342.18 L300.2,342.16 L300.7,342.15 L301.2,342.16 L301.7,342.18 L302.2,342.22 L302.7,342.33 L303.2,342.50 L303.7,342.69 L304.2,342.90 L304.7,343.10 L305.2,343.29 L305.7,343.48 L306.2,343.69 L306.7,343.90 L307.2,344.13 L307.7,344.37 L308.2,344.64 L308.7,344.92 L309.2,345.23 L309.7,345.59 L310.2,346.00 L310.7,346.47 L311.2,346.98 L311.7,347.51 L312.2,348.06 L312.7,348.62 L313.2,349.17 L313.7,349.70 L314.2,350.20 L314.7,350.69 L315.2,351.19 L315.7,351.69 L316.2,352.18 L316.7,352.68 L317.2,353.17 L317.7,353.65 L318.2,354.13 L318.7,354.60 L319.2,355.06 L319.7,355.52 L320.2,355.97 L320.7,356.41 L321.2,356.85 L321.7,357.29 L322.2,357.73 L322.7,358.17 L323.2,358.62 L323.7,359.07 L324.2,359.55 L324.7,360.03 L325.2,360.51 L325.7,361.00 L326.2,361.47 L326.7,361.93 L327.2,362.37 L327.7,362.77 L328.2,363.15 L328.7,363.50 L329.2,363.84 L329.7,364.16 L330.2,364.47 L330.7,364.77 L331.2,365.05 L331.7,365.31 L332.2,365.56 L332.7,365.80 L333.2,366.02 L333.7,366.24 L334.2,366.45 L334.7,366.65 L335.2,366.85 L335.7,367.05 L336.2,367.24 L336.7,367.43 L337.2,367.62 L337.7,367.82 L338.2,368.02 L338.7,368.23 L339.2,368.43 L339.7,368.64 L340.2,368.85 L340.7,369.04 L341.2,369.23 L341.7,369.41 L342.2,369.58 L342.7,369.72 L343.2,369.85 L343.7,369.97 L344.2,370.09 L344.7,370.21 L345.2,370.32 L345.7,370.43 L346.2,370.53 L346.7,370.63 L347.2,370.71 L347.7,370.79 L348.2,370.86 L348.7,370.91 L349.2,370.96 L349.7,370.99 L350.2,371.01 L350.7,371.02 L351.2,371.03 L351.7,371.05 L352.2,371.06 L352.7,371.07 L353.2,371.09 L353.7,371.10 L354.2,371.11 L354.7,371.12 L355.2,371.13 L355.7,371.14 L356.2,371.15 L356.7,371.15 L357.2,371.16 L357.7,371.17 L358.2,371.17 L358.7,371.18 L359.2,371.18 L359.7,371.18 L360.2,371.19 L360.7,371.19 L361.2,371.19 L361.7,371.19 L362.2,371.18 L362.7,371.18 L363.2,371.18 L363.7,371.17 L364.2,371.17 L364.7,371.16 L365.2,371.15 L365.7,371.14 L366.2,371.13 L366.7,371.12 L367.2,371.10 L367.7,371.09 L368.2,371.07 L368.7,371.05 L369.2,371.03 L369.7,371.01 L370.2,370.99 L370.7,370.97 L371.2,370.95 L371.7,370.92 L372.2,370.90 L372.7,370.87 L373.2,370.85 L373.7,370.82 L374.2,370.80 L374.7,370.77 L375.2,370.74 L375.7,370.72 L376.2,370.69 L376.7,370.66 L377.2,370.63 L377.7,370.61 L378.2,370.58 L378.7,370.55 L379.2,370.52 L379.7,370.49 L380.2,370.46 L380.7,370.43 L381.2,370.39 L381.7,370.36 L382.2,370.33 L382.7,370.30 L383.2,370.27 L383.7,370.23 L384.2,370.20 L384.7,370.17 L385.2,370.13 L385.7,370.10 L386.2,370.06 L386.7,370.03 L387.2,369.99 L387.7,369.96 L388.2,369.92 L388.7,369.88 L389.2,369.85 L389.7,369.81 L390.2,369.77 L390.7,369.74 L391.2,369.70 L391.7,369.66 L392.2,369.62 L392.7,369.58 L393.2,369.55 L393.7,369.51 L394.2,369.47 L394.7,369.43 L395.2,369.39 L395.7,369.35 L396.2,369.31 L396.7,369.27 L397.2,369.23 L397.7,369.19 L398.2,369.15 L398.7,369.11 L399.2,369.07 L399.7,369.02 L400.2,368.98 L400.7,368.94 L401.2,368.89 L401.7,368.84 L402.2,368.78 L402.7,368.73 L403.2,368.67 L403.7,368.60 L404.2,368.54 L404.7,368.48 L405.2,368.41 L405.7,368.34 L406.2,368.28 L406.7,368.21 L407.2,368.14 L407.7,368.08 L408.2,368.01 L408.7,367.95 L409.2,367.89 L409.7,367.83 L410.2,367.77 L410.7,367.71 L411.2,367.66 L411.7,367.61 L412.2,367.57 L412.7,367.53 L413.2,367.49 L413.7,367.46 L414.2,367.43 L414.7,367.40 L415.2,367.38 L415.7,367.37 L416.2,367.35 L416.7,367.33 L417.2,367.31 L417.7,367.30 L418.2,367.28 L418.7,367.27 L419.2,367.25 L419.7,367.24 L420.2,367.22 L420.7,367.21 L421.2,367.19 L421.7,367.18 L422.2,367.17 L422.7,367.16 L423.2,367.15 L423.7,367.14 L424.2,367.13 L424.7,367.12 L425.2,367.11 L425.7,367.10 L426.2,367.09 L426.7,367.08 L427.2,367.07 L427.7,367.07 L428.2,367.06 L428.7,367.05 L429.2,367.05 L429.7,367.04 L430.2,367.03 L430.7,367.03 L431.2,367.03 L431.7,367.02 L432.2,367.02 L432.7,367.01 L433.2,367.01 L433.7,367.01 L434.2,367.01 L434.7,367.00 L435.2,367.00 L435.7,367.00 L436.2,367.00 L436.7,367.00 L437.2,367.00 L437.7,367.00 L438.2,367.00 L438.7,367.00 L439.2,367.00 L439.7,367.00 L440.2,367.00 L440.7,367.01 L441.2,367.01 L441.7,367.01 L442.2,367.02 L442.7,367.02 L443.2,367.03 L443.7,367.03 L444.2,367.04 L444.7,367.05 L445.2,367.05 L445.7,367.06 L446.2,367.07 L446.7,367.08 L447.2,367.09 L447.7,367.10 L448.2,367.11 L448.7,367.12 L449.2,367.13 L449.7,367.14 L450.2,367.16 L450.7,367.17 L451.2,367.18 L451.7,367.20 L452.2,367.21 L452.7,367.23 L453.2,367.24 L453.7,367.26 L454.2,367.28 L454.7,367.29 L455.2,367.31 L455.7,367.33 L456.2,367.35 L456.7,367.37 L457.2,367.39 L457.7,367.41 L458.2,367.44 L458.7,367.47 L459.2,367.51 L459.7,367.55 L460.2,367.59 L460.7,367.64 L461.2,367.69 L461.7,367.74 L462.2,367.80 L462.7,367.86 L463.2,367.92 L463.7,367.99 L464.2,368.05 L464.7,368.12 L465.2,368.19 L465.7,368.26 L466.2,368.33 L466.7,368.41 L467.2,368.48 L467.7,368.55 L468.2,368.63 L468.7,368.70 L469.2,368.77 L469.7,368.85 L470.2,368.92 L470.7,368.99 L471.2,369.06 L471.7,369.12 L472.2,369.19 L472.7,369.25 L473.2,369.31 L473.7,369.37 L474.2,369.42 L474.7,369.47 L475.2,369.52 L475.7,369.57 L476.2,369.61 L476.7,369.65 L477.2,369.69 L477.7,369.73 L478.2,369.77 L478.7,369.81 L479.2,369.85 L479.7,369.89 L480.2,369.92 L480.7,369.96 L481.2,370.00 L481.7,370.04 L482.2,370.08 L482.7,370.12 L483.2,370.16 L483.7,370.19 L484.2,370.23 L484.7,370.27 L485.2,370.30 L485.7,370.34 L486.2,370.38 L486.7,370.41 L487.2,370.44 L487.7,370.48 L488.2,370.51 L488.7,370.54 L489.2,370.57 L489.7,370.60 L490.2,370.63 L490.7,370.66 L491.2,370.69 L491.7,370.72 L492.2,370.74 L492.7,370.77 L493.2,370.79 L493.7,370.82 L494.2,370.84 L494.7,370.86 L495.2,370.88 L495.7,370.90 L496.2,370.91 L496.7,370.93 L497.2,370.94 L497.7,370.96 L498.2,370.97 L498.7,370.98 L499.2,370.99 L499.7,371.00 L500.2,371.00 L500.7,371.01 L501.2,371.01 L501.7,371.02 L502.2,371.02 L502.7,371.03 L503.2,371.03 L503.7,371.04 L504.2,371.04 L504.7,371.05 L505.2,371.05 L505.7,371.06 L506.2,371.06 L506.7,371.06 L507.2,371.07 L507.7,371.07 L508.2,371.07 L508.7,371.08 L509.2,371.08 L509.7,371.08 L510.2,371.08 L510.7,371.08 L511.2,371.09 L511.7,371.09 L512.2,371.09 L512.7,371.09 L513.2,371.09 L513.7,371.09 L514.2,371.09 L514.7,371.09 L515.2,371.09 L515.7,371.09 L516.2,371.09 L516.7,371.09 L517.2,371.09 L517.7,371.09 L518.2,371.09 L518.7,371.09 L519.2,371.09 L519.7,371.09 L520.2,371.08 L520.7,371.08 L521.2,371.08 L521.7,371.08 L522.2,371.07 L522.7,371.07 L523.2,371.07 L523.7,371.06 L524.2,371.06 L524.7,371.06 L525.2,371.05 L525.7,371.05 L526.2,371.04 L526.7,371.04 L527.2,371.03 L527.7,371.03 L528.2,371.02 L528.7,371.02 L529.2,371.01 L529.7,371.00 L530.2,371.00 L530.7,370.99 L531.2,370.98 L531.7,370.98 L532.2,370.97 L532.7,370.96 L533.2,370.95 L533.7,370.94 L534.2,370.93 L534.7,370.92 L535.2,370.91 L535.7,370.90 L536.2,370.88 L536.7,370.87 L537.2,370.86 L537.7,370.85 L538.2,370.84 L538.7,370.82 L539.2,370.81 L539.7,370.80 L540.2,370.78 L540.7,370.77 L541.2,370.75 L541.7,370.74 L542.2,370.73 L542.7,370.71 L543.2,370.70 L543.7,370.68 L544.2,370.67 L544.7,370.65 L545.2,370.64 L545.7,370.62 L546.2,370.61 L546.7,370.60 L547.2,370.58 L547.7,370.57 L548.2,370.55 L548.7,370.54 L549.2,370.52 L549.7,370.51 L550.2,370.49 L550.7,370.48 L551.2,370.46 L551.7,370.44 L552.2,370.41 L552.7,370.38 L553.2,370.36 L553.7,370.33 L554.2,370.29 L554.7,370.26 L555.2,370.22 L555.7,370.18 L556.2,370.15 L556.7,370.11 L557.2,370.07 L557.7,370.03 L558.2,369.98 L558.7,369.91 L559.2,369.81 L559.7,369.69 L560.2,369.54 L560.7,369.38 L561.2,369.20 L561.7,369.01 L562.2,368.82 L562.7,368.62 L563.2,368.42 L563.7,368.19 L564.2,367.92 L564.7,367.62 L565.2,367.29 L565.7,366.94 L566.2,366.57 L566.7,366.20 L567.2,365.81 L567.6,365.50" stroke="#70AD47"/>
<path d="M79.2,362.00 L79.7,362.28 L80.2,362.55 L80.7,362.82 L81.2,363.09 L81.7,363.36 L82.2,363.63 L82.7,363.89 L83.2,364.15 L83.7,364.41 L84.2,364.66 L84.7,364.91 L85.2,365.16 L85.7,365.41 L86.2,365.65 L86.7,365.89 L87.2,366.13 L87.7,366.36 L88.2,366.59 L88.7,366.83 L89.2,367.08 L89.7,367.33 L90.2,367.59 L90.7,367.85 L91.2,368.11 L91.7,368.37 L92.2,368.62 L92.7,368.87 L93.2,369.11 L93.7,369.34 L94.2,369.56 L94.7,369.76 L95.2,369.95 L95.7,370.12 L96.2,370.26 L96.7,370.39 L97.2,370.49 L97.7,370.57 L98.2,370.62 L98.7,370.66 L99.2,370.70 L99.7,370.74 L100.2,370.78 L100.7,370.81 L101.2,370.85 L101.7,370.88 L102.2,370.91 L102.7,370.94 L103.2,370.97 L103.7,371.00 L104.2,371.02 L104.7,371.04 L105.2,371.06 L105.7,371.08 L106.2,371.10 L106.7,371.11 L107.2,371.12 L107.7,371.13 L108.2,371.14 L108.7,371.14 L109.2,371.15 L109.7,371.15 L110.2,371.15 L110.7,371.14 L111.2,371.13 L111.7,371.13 L112.2,371.11 L112.7,371.10 L113.2,371.08 L113.7,371.06 L114.2,371.04 L114.7,371.02 L115.2,370.99 L115.7,370.96 L116.2,370.93 L116.7,370.90 L117.2,370.87 L117.7,370.84 L118.2,370.81 L118.7,370.78 L119.2,370.75 L119.7,370.72 L120.2,370.68 L120.7,370.65 L121.2,370.62 L121.7,370.58 L122.2,370.55 L122.7,370.52 L123.2,370.48 L123.7,370.45 L124.2,370.41 L124.7,370.38 L125.2,370.34 L125.7,370.31 L126.2,370.27 L126.7,370.24 L127.2,370.20 L127.7,370.17 L128.2,370.13 L128.7,370.09 L129.2,370.06 L129.7,370.02 L130.2,369.99 L130.7,369.95 L131.2,369.91 L131.7,369.88 L132.2,369.84 L132.7,369.80 L133.2,369.77 L133.7,369.73 L134.2,369.69 L134.7,369.66 L135.2,369.62 L135.7,369.58 L136.2,369.54 L136.7,369.50 L137.2,369.46 L137.7,369.43 L138.2,369.39 L138.7,369.35 L139.2,369.31 L139.7,369.27 L140.2,369.23 L140.7,369.18 L141.2,369.14 L141.7,369.10 L142.2,369.06 L142.7,369.01 L143.2,368.97 L143.7,368.92 L144.2,368.88 L144.7,368.83 L145.2,368.78 L145.7,368.74 L146.2,368.69 L146.7,368.64 L147.2,368.59 L147.7,368.54 L148.2,368.49 L148.7,368.44 L149.2,368.40 L149.7,368.35 L150.2,368.30 L150.7,368.25 L151.2,368.20 L151.7,368.16 L152.2,368.11 L152.7,368.06 L153.2,368.02 L153.7,367.97 L154.2,367.93 L154.7,367.88 L155.2,367.84 L155.7,367.80 L156.2,367.75 L156.7,367.71 L157.2,367.67 L157.7,367.62 L158.2,367.58 L158.7,367.54 L159.2,367.50 L159.7,367.46 L160.2,367.42 L160.7,367.38 L161.2,367.34 L161.7,367.30 L162.2,367.26 L162.7,367.23 L163.2,367.19 L163.7,367.15 L164.2,367.12 L164.7,367.08 L165.2,367.05 L165.7,367.01 L166.2,366.98 L166.7,366.95 L167.2,366.91 L167.7,366.88 L168.2,366.85 L168.7,366.81 L169.2,366.78 L169.7,366.75 L170.2,366.71 L170.7,366.68 L171.2,366.65 L171.7,366.61 L172.2,366.58 L172.7,366.54 L173.2,366.51 L173.7,366.47 L174.2,366.43 L174.7,366.39 L175.2,366.34 L175.7,366.30 L176.2,366.25 L176.7,366.21 L177.2,366.17 L177.7,366.13 L178.2,366.09 L178.7,366.06 L179.2,366.03 L179.7,366.01 L180.2,365.99 L180.7,365.98 L181.2,365.97 L181.7,365.96 L182.2,365.95 L182.7,365.94 L183.2,365.94 L183.7,365.94 L184.2,365.93 L184.7,365.93 L185.2,365.93 L185.7,365.93 L186.2,365.93 L186.7,365.94 L187.2,365.94 L187.7,365.95 L188.2,365.95 L188.7,365.96 L189.2,365.97 L189.7,365.98 L190.2,365.99 L190.7,366.00 L191.2,366.01 L191.7,366.02 L192.2,366.03 L192.7,366.05 L193.2,366.06 L193.7,366.08 L194.2,366.09 L194.7,366.11 L195.2,366.13 L195.7,366.14 L196.2,366.16 L196.7,366.18 L197.2,366.20 L197.7,366.22 L198.2,366.23 L198.7,366.25 L199.2,366.27 L199.7,366.29 L200.2,366.31 L200.7,366.32 L201.2,366.34 L201.7,366.36 L202.2,366.38 L202.7,366.40 L203.2,366.42 L203.7,366.44 L204.2,366.46 L204.7,366.48 L205.2,366.50 L205.7,366.53 L206.2,366.55 L206.7,366.58 L207.2,366.61 L207.7,366.64 L208.2,366.67 L208.7,366.70 L209.2,366.74 L209.7,366.78 L210.2,366.82 L210.7,366.87 L211.2,366.93 L211.7,367.01 L212.2,367.10 L212.7,367.19 L213.2,367.29 L213.7,367.40 L214.2,367.52 L214.7,367.64 L215.2,367.76 L215.7,367.88 L216.2,368.00 L216.7,368.12 L217.2,368.24 L217.7,368.36 L218.2,368.47 L218.7,368.57 L219.2,368.67 L219.7,368.75 L220.2,368.83 L220.7,368.91 L221.2,368.98 L221.7,369.06 L222.2,369.13 L222.7,369.21 L223.2,369.28 L223.7,369.35 L224.2,369.42 L224.7,369.49 L225.2,369.56 L225.7,369.63 L226.2,369.70 L226.7,369.76 L227.2,369.82 L227.7,369.88 L228.2,369.94 L228.7,370.00 L229.2,370.05 L229.7,370.10 L230.2,370.15 L230.7,370.19 L231.2,370.24 L231.7,370.28 L232.2,370.31 L232.7,370.35 L233.2,370.39 L233.7,370.42 L234.2,370.46 L234.7,370.49 L235.2,370.52 L235.7,370.56 L236.2,370.59 L236.7,370.62 L237.2,370.65 L237.7,370.68 L238.2,370.71 L238.7,370.74 L239.2,370.77 L239.7,370.80 L240.2,370.83 L240.7,370.86 L241.2,370.88 L241.7,370.91 L242.2,370.94 L242.7,370.96 L243.2,370.99 L243.7,371.02 L244.2,371.04 L244.7,371.06 L245.2,371.09 L245.7,371.11 L246.2,371.14 L246.7,371.16 L247.2,371.18 L247.7,371.20 L248.2,371.23 L248.7,371.25 L249.2,371.27 L249.7,371.29 L250.2,371.31 L250.7,371.33 L251.2,371.35 L251.7,371.37 L252.2,371.38 L252.7,371.40 L253.2,371.42 L253.7,371.43 L254.2,371.45 L254.7,371.47 L255.2,371.48 L255.7,371.49 L256.2,371.51 L256.7,371.52 L257.2,371.53 L257.7,371.54 L258.2,371.55 L258.7,371.56 L259.2,371.57 L259.7,371.58 L260.2,371.59 L260.7,371.59 L261.2,371.60 L261.7,371.60 L262.2,371.61 L262.7,371.61 L263.2,371.61 L263.7,371.61 L264.2,371.61 L264.7,371.61 L265.2,371.61 L265.7,371.61 L266.2,371.60 L266.7,371.60 L267.2,371.59 L267.7,371.59 L268.2,371.58 L268.7,371.57 L269.2,371.56 L269.7,371.55 L270.2,371.53 L270.7,371.52 L271.2,371.50 L271.7,371.48 L272.2,371.42 L272.7,371.34 L273.2,371.24 L273.7,371.12 L274.2,370.99 L274.7,370.85 L275.2,370.71 L275.7,370.58 L276.2,370.45 L276.7,370.31 L277.2,370.17 L277.7,370.01 L278.2,369.86 L278.7,369.70 L279.2,369.55 L279.7,369.39 L280.2,369.24 L280.7,369.10 L281.2,368.96 L281.7,368.84 L282.2,368.71 L282.7,368.59 L283.2,368.47 L283.7,368.36 L284.2,368.25 L284.7,368.13 L285.2,368.02 L285.7,367.91 L286.2,367.80 L286.7,367.68 L287.2,367.56 L287.7,367.44 L288.2,367.31 L288.7,367.18 L289.2,367.04 L289.7,366.89 L290.2,366.74 L290.7,366.56 L291.2,366.36 L291.7,366.14 L292.2,365.92 L292.7,365.70 L293.2,365.48 L293.7,365.27 L294.2,365.07 L294.7,364.90 L295.2,364.75 L295.7,364.62 L296.2,364.49 L296.7,364.38 L297.2,364.27 L297.7,364.17 L298.2,364.06 L298.7,363.95 L299.2,363.82 L299.7,363.69 L300.2,363.54 L300.7,363.37 L301.2,363.18 L301.7,362.99 L302.2,362.79 L302.7,362.59 L303.2,362.40 L303.7,362.22 L304.2,362.05 L304.7,361.90 L305.2,361.76 L305.7,361.63 L306.2,361.50 L306.7,361.38 L307.2,361.27 L307.7,361.16 L308.2,361.06 L308.7,360.98 L309.2,360.91 L309.7,360.85 L310.2,360.79 L310.7,360.73 L311.2,360.68 L311.7,360.63 L312.2,360.58 L312.7,360.55 L313.2,360.52 L313.7,360.50 L314.2,360.50 L314.7,360.50 L315.2,360.51 L315.7,360.53 L316.2,360.55 L316.7,360.58 L317.2,360.61 L317.7,360.64 L318.2,360.67 L318.7,360.70 L319.2,360.73 L319.7,360.78 L320.2,360.82 L320.7,360.88 L321.2,360.94 L321.7,361.01 L322.2,361.09 L322.7,361.17 L323.2,361.26 L323.7,361.37 L324.2,361.50 L324.7,361.66 L325.2,361.84 L325.7,362.04 L326.2,362.25 L326.7,362.46 L327.2,362.68 L327.7,362.88 L328.2,363.08 L328.7,363.27 L329.2,363.46 L329.7,363.66 L330.2,363.86 L330.7,364.06 L331.2,364.26 L331.7,364.47 L332.2,364.68 L332.7,364.90 L333.2,365.13 L333.7,365.37 L334.2,365.62 L334.7,365.88 L335.2,366.14 L335.7,366.39 L336.2,366.64 L336.7,366.89 L337.2,367.11 L337.7,367.33 L338.2,367.54 L338.7,367.76 L339.2,367.98 L339.7,368.19 L340.2,368.40 L340.7,368.61 L341.2,368.81 L341.7,369.00 L342.2,369.19 L342.7,369.36 L343.2,369.53 L343.7,369.68 L344.2,369.81 L344.7,369.94 L345.2,370.04 L345.7,370.14 L346.2,370.25 L346.7,370.35 L347.2,370.44 L347.7,370.54 L348.2,370.62 L348.7,370.70 L349.2,370.78 L349.7,370.84 L350.2,370.90 L350.7,370.94 L351.2,370.98 L351.7,370.99 L352.2,371.00 L352.7,371.01 L353.2,371.01 L353.7,371.01 L354.2,371.02 L354.7,371.02 L355.2,371.03 L355.7,371.03 L356.2,371.03 L356.7,371.04 L357.2,371.04 L357.7,371.05 L358.2,371.05 L358.7,371.05 L359.2,371.06 L359.7,371.06 L360.2,371.06 L360.7,371.07 L361.2,371.07 L361.7,371.07 L362.2,371.08 L362.7,371.08 L363.2,371.08 L363.7,371.08 L364.2,371.09 L364.7,371.09 L365.2,371.09 L365.7,371.09 L366.2,371.09 L366.7,371.09 L367.2,371.09 L367.7,371.09 L368.2,371.09 L368.7,371.09 L369.2,371.09 L369.7,371.09 L370.2,371.09 L370.7,371.09 L371.2,371.09 L371.7,371.09 L372.2,371.08 L372.7,371.08 L373.2,371.08 L373.7,371.08 L374.2,371.07 L374.7,371.07 L375.2,371.06 L375.7,371.06 L376.2,371.05 L376.7,371.05 L377.2,371.04 L377.7,371.04 L378.2,371.03 L378.7,371.02 L379.2,371.01 L379.7,371.01 L380.2,371.00 L380.7,370.99 L381.2,370.98 L381.7,370.97 L382.2,370.96 L382.7,370.95 L383.2,370.94 L383.7,370.93 L384.2,370.92 L384.7,370.91 L385.2,370.90 L385.7,370.89 L386.2,370.88 L386.7,370.87 L387.2,370.86 L387.7,370.85 L388.2,370.84 L388.7,370.83 L389.2,370.81 L389.7,370.80 L390.2,370.79 L390.7,370.78 L391.2,370.77 L391.7,370.76 L392.2,370.75 L392.7,370.74 L393.2,370.72 L393.7,370.71 L394.2,370.70 L394.7,370.69 L395.2,370.68 L395.7,370.67 L396.2,370.65 L396.7,370.64 L397.2,370.63 L397.7,370.62 L398.2,370.61 L398.7,370.60 L399.2,370.58 L399.7,370.57 L400.2,370.56 L400.7,370.55 L401.2,370.54 L401.7,370.53 L402.2,370.52 L402.7,370.51 L403.2,370.49 L403.7,370.48 L404.2,370.47 L404.7,370.46 L405.2,370.45 L405.7,370.44 L406.2,370.43 L406.7,370.42 L407.2,370.41 L407.7,370.40 L408.2,370.39 L408.7,370.38 L409.2,370.37 L409.7,370.36 L410.2,370.35 L410.7,370.34 L411.2,370.33 L411.7,370.32 L412.2,370.31 L412.7,370.30 L413.2,370.30 L413.7,370.29 L414.2,370.28 L414.7,370.27 L415.2,370.26 L415.7,370.26 L416.2,370.25 L416.7,370.24 L417.2,370.23 L417.7,370.23 L418.2,370.22 L418.7,370.21 L419.2,370.21 L419.7,370.20 L420.2,370.20 L420.7,370.19 L421.2,370.19 L421.7,370.19 L422.2,370.18 L422.7,370.18 L423.2,370.18 L423.7,370.18 L424.2,370.17 L424.7,370.17 L425.2,370.17 L425.7,370.17 L426.2,370.17 L426.7,370.17 L427.2,370.18 L427.7,370.18 L428.2,370.18 L428.7,370.18 L429.2,370.18 L429.7,370.18 L430.2,370.18 L430.7,370.19 L431.2,370.19 L431.7,370.19 L432.2,370.19 L432.7,370.19 L433.2,370.20 L433.7,370.20 L434.2,370.20 L434.7,370.20 L435.2,370.20 L435.7,370.20 L436.2,370.20 L436.7,370.20 L437.2,370.21 L437.7,370.21 L438.2,370.20 L438.7,370.20 L439.2,370.20 L439.7,370.20 L440.2,370.20 L440.7,370.20 L441.2,370.19 L441.7,370.18 L442.2,370.18 L442.7,370.17 L443.2,370.16 L443.7,370.15 L444.2,370.14 L444.7,370.12 L445.2,370.11 L445.7,370.10 L446.2,370.08 L446.7,370.07 L447.2,370.05 L447.7,370.03 L448.2,370.02 L448.7,370.00 L449.2,369.99 L449.7,369.97 L450.2,369.95 L450.7,369.94 L451.2,369.92 L451.7,369.91 L452.2,369.89 L452.7,369.88 L453.2,369.87 L453.7,369.85 L454.2,369.84 L454.7,369.83 L455.2,369.82 L455.7,369.82 L456.2,369.81 L456.7,369.80 L457.2,369.80 L457.7,369.80 L458.2,369.82 L458.7,369.84 L459.2,369.86 L459.7,369.90 L460.2,369.94 L460.7,369.98 L461.2,370.03 L461.7,370.09 L462.2,370.14 L462.7,370.21 L463.2,370.27 L463.7,370.33 L464.2,370.40 L464.7,370.47 L465.2,370.53 L465.7,370.60 L466.2,370.66 L466.7,370.72 L467.2,370.78 L467.7,370.84 L468.2,370.89 L468.7,370.94 L469.2,370.98 L469.7,371.02 L470.2,371.05 L470.7,371.08 L471.2,371.09 L471.7,371.10 L472.2,371.10 L472.7,371.09 L473.2,371.08 L473.7,371.05 L474.2,371.02 L474.7,370.98 L475.2,370.94 L475.7,370.89 L476.2,370.84 L476.7,370.78 L477.2,370.72 L477.7,370.65 L478.2,370.58 L478.7,370.51 L479.2,370.44 L479.7,370.37 L480.2,370.29 L480.7,370.22 L481.2,370.15 L481.7,370.07 L482.2,370.00 L482.7,369.93 L483.2,369.86 L483.7,369.80 L484.2,369.74 L484.7,369.68 L485.2,369.63 L485.7,369.58 L486.2,369.53 L486.7,369.48 L487.2,369.43 L487.7,369.38 L488.2,369.33 L488.7,369.28 L489.2,369.23 L489.7,369.18 L490.2,369.14 L490.7,369.09 L491.2,369.05 L491.7,369.02 L492.2,368.98 L492.7,368.95 L493.2,368.93 L493.7,368.92 L494.2,368.90 L494.7,368.90 L495.2,368.90 L495.7,368.92 L496.2,368.95 L496.7,368.99 L497.2,369.04 L497.7,369.10 L498.2,369.16 L498.7,369.23 L499.2,369.31 L499.7,369.38 L500.2,369.46 L500.7,369.54 L501.2,369.61 L501.7,369.69 L502.2,369.76 L502.7,369.82 L503.2,369.88 L503.7,369.92 L504.2,369.96 L504.7,369.99 L505.2,370.01 L505.7,370.02 L506.2,370.03 L506.7,370.03 L507.2,370.04 L507.7,370.04 L508.2,370.04 L508.7,370.04 L509.2,370.03 L509.7,370.02 L510.2,370.02 L510.7,370.01 L511.2,369.99 L511.7,369.98 L512.2,369.96 L512.7,369.94 L513.2,369.92 L513.7,369.90 L514.2,369.88 L514.7,369.85 L515.2,369.83 L515.7,369.80 L516.2,369.77 L516.7,369.74 L517.2,369.71 L517.7,369.67 L518.2,369.64 L518.7,369.60 L519.2,369.56 L519.7,369.52 L520.2,369.48 L520.7,369.44 L521.2,369.40 L521.7,369.35 L522.2,369.30 L522.7,369.24 L523.2,369.19 L523.7,369.13 L524.2,369.08 L524.7,369.02 L525.2,368.96 L525.7,368.90 L526.2,368.84 L526.7,368.78 L527.2,368.72 L527.7,368.66 L528.2,368.60 L528.7,368.54 L529.2,368.49 L529.7,368.43 L530.2,368.38 L530.7,368.32 L531.2,368.27 L531.7,368.21 L532.2,368.15 L532.7,368.10 L533.2,368.04 L533.7,367.98 L534.2,367.92 L534.7,367.86 L535.2,367.80 L535.7,367.75 L536.2,367.69 L536.7,367.63 L537.2,367.58 L537.7,367.52 L538.2,367.47 L538.7,367.42 L539.2,367.37 L539.7,367.32 L540.2,367.27 L540.7,367.23 L541.2,367.18 L541.7,367.14 L542.2,367.11 L542.7,367.07 L543.2,367.04 L543.7,367.02 L544.2,366.99 L544.7,366.98 L545.2,366.98 L545.7,367.00 L546.2,367.03 L546.7,367.07 L547.2,367.12 L547.7,367.18 L548.2,367.25 L548.7,367.33 L549.2,367.42 L549.7,367.51 L550.2,367.61 L550.7,367.71 L551.2,367.82 L551.7,367.93 L552.2,368.04 L552.7,368.15 L553.2,368.26 L553.7,368.38 L554.2,368.49 L554.7,368.62 L555.2,368.76 L555.7,368.90 L556.2,369.06 L556.7,369.22 L557.2,369.39 L557.7,369.56 L558.2,369.74 L558.7,369.91 L559.2,370.10 L559.7,370.28 L560.2,370.46 L560.7,370.64 L561.2,370.82 L561.7,371.00 L562.2,371.17 L562.7,371.33 L563.2,371.50 L563.7,371.67 L564.2,371.84 L564.7,372.01 L565.2,372.18 L565.7,372.35 L566.2,372.52 L566.7,372.69 L567.2,372.86 L567.6,373.00" stroke="#255E91"/>
</g>
<g font-size="14">
<text x="53" y="378.40" text-anchor="end">0</text>
<text x="53" y="333.20" text-anchor="end">0.1</text>
<text x="53" y="288.00" text-anchor="end">0.2</text>
<text x="53" y="242.80" text-anchor="end">0.3</text>
<text x="53" y="197.60" text-anchor="end">0.4</text>
<text x="53" y="152.40" text-anchor="end">0.5</text>
<text x="53" y="107.20" text-anchor="end">0.6</text>
<text x="53" y="62.00" text-anchor="end">0.7</text>
<text x="53" y="16.80" text-anchor="end">0.8</text>
<text x="66.70" y="397.20" text-anchor="middle">0</text>
<text x="129.30" y="397.20" text-anchor="middle">0.1</text>
<text x="191.90" y="397.20" text-anchor="middle">0.2</text>
<text x="254.50" y="397.20" text-anchor="middle">0.3</text>
<text x="317.10" y="397.20" text-anchor="middle">0.4</text>
<text x="379.70" y="397.20" text-anchor="middle">0.5</text>
<text x="442.30" y="397.20" text-anchor="middle">0.6</text>
<text x="504.90" y="397.20" text-anchor="middle">0.7</text>
<text x="567.50" y="397.20" text-anchor="middle">0.8</text>
</g>
<text transform="translate(5.0,26.6) scale(0.915,1)" font-size="29.5" font-weight="bold" fill="#000" stroke="#000" stroke-width="0.5">A</text>
<text x="373.2" y="100.3" font-size="16.6" textLength="35.2" lengthAdjust="spacingAndGlyphs">1.00</text><text x="413.5" y="100.3" font-size="16.6" textLength="29.5" lengthAdjust="spacingAndGlyphs">µM</text>
<text x="373.0" y="281.3" font-size="16.6" textLength="35.4" lengthAdjust="spacingAndGlyphs">0.05</text><text x="413.5" y="281.3" font-size="16.6" textLength="29.5" lengthAdjust="spacingAndGlyphs">µM</text>
<text x="317" y="421.6" font-size="15" font-weight="bold" text-anchor="middle" fill="#000">Potential/V</text>
<text transform="translate(25.3,192.7) rotate(-90)" font-size="15" font-weight="bold" text-anchor="middle" fill="#000">Current/µA</text>
<line x1="397.9" y1="251.4" x2="397.9" y2="129" stroke="#000" stroke-width="3.6"/>
<path d="M397.8,119.8 L403.4,130.8 L392.3,130.8 Z" fill="#000"/>
</svg>
</body></html>
